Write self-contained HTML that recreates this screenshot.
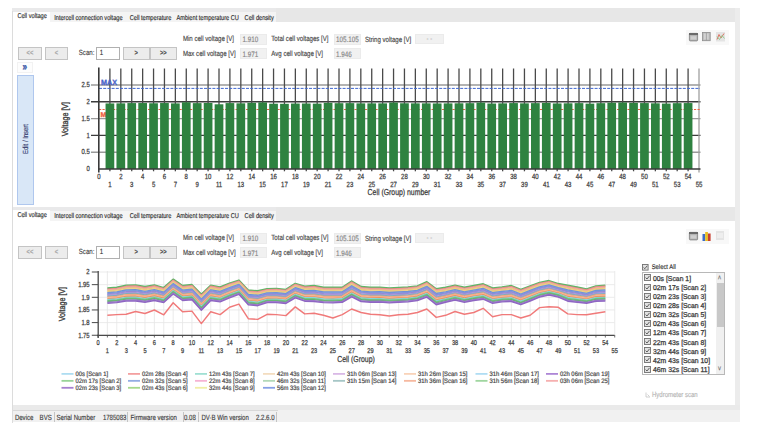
<!DOCTYPE html><html><head><meta charset="utf-8"><style>
html,body{margin:0;padding:0;background:#fff;text-rendering:geometricPrecision;}
body{width:758px;height:431px;position:relative;overflow:hidden;font-family:'Liberation Sans',sans-serif;}
.t{position:absolute;white-space:nowrap;line-height:1;-webkit-text-stroke:0.12px currentColor;transform-origin:0 48%;transform:scaleY(1.25);font-family:'Liberation Sans',sans-serif;}
svg text{stroke-width:0.2px;}
svg text:not(.r){transform-box:fill-box;transform-origin:50% 62%;transform:scaleY(1.25);}
svg text.lg{transform:scaleY(1.08);}
svg{position:absolute;overflow:visible}
#w{position:absolute;left:0;top:0;width:758px;height:431px;}
</style></head><body><div id="w">
<div style="position:absolute;left:12px;top:8px;width:1px;height:415px;background:#dcdcdc;"></div>
<div style="position:absolute;left:735px;top:8px;width:5px;height:402px;background:#ececec;"></div>
<div style="position:absolute;left:12px;top:8px;width:723px;height:13.8px;background:#e7e7e7;"></div>
<div style="position:absolute;left:12px;top:8px;width:263.5px;height:13.8px;background:#f4f4f4;"></div>
<div style="position:absolute;left:12px;top:8px;width:263.5px;height:4.0px;background:#e9e9ea;"></div>
<div style="position:absolute;left:12.4px;top:11.5px;width:37.6px;height:11px;background:#fff;"></div>
<div class="t" style="left:17.4px;top:15.1px;font-size:5.65px;color:#2a2a2a;">Cell voltage</div>
<div class="t" style="left:54.2px;top:16.6px;font-size:5.65px;color:#2a2a2a;">Intercell connection voltage</div>
<div class="t" style="left:129.7px;top:16.6px;font-size:5.65px;color:#2a2a2a;">Cell temperature</div>
<div class="t" style="left:176.5px;top:16.6px;font-size:5.65px;color:#2a2a2a;">Ambient temperature CU</div>
<div class="t" style="left:244.6px;top:16.6px;font-size:5.65px;color:#2a2a2a;">Cell density</div>
<div style="position:absolute;left:12px;top:206.5px;width:723px;height:14.3px;background:#e7e7e7;"></div>
<div style="position:absolute;left:12px;top:206.5px;width:263.5px;height:14.3px;background:#f4f4f4;"></div>
<div style="position:absolute;left:12px;top:206.5px;width:263.5px;height:4.0px;background:#e9e9ea;"></div>
<div style="position:absolute;left:12.4px;top:210.0px;width:37.6px;height:11px;background:#fff;"></div>
<div class="t" style="left:17.4px;top:213.6px;font-size:5.65px;color:#2a2a2a;">Cell voltage</div>
<div class="t" style="left:54.2px;top:215.1px;font-size:5.65px;color:#2a2a2a;">Intercell connection voltage</div>
<div class="t" style="left:129.7px;top:215.1px;font-size:5.65px;color:#2a2a2a;">Cell temperature</div>
<div class="t" style="left:176.5px;top:215.1px;font-size:5.65px;color:#2a2a2a;">Ambient temperature CU</div>
<div class="t" style="left:244.6px;top:215.1px;font-size:5.65px;color:#2a2a2a;">Cell density</div>
<div style="position:absolute;left:12px;top:404.5px;width:728px;height:5.5px;background:#eaeaea;"></div>
<div style="position:absolute;left:12px;top:410px;width:728px;height:12px;background:#f1f1f1;"></div>
<div class="t" style="left:182.9px;top:37.2px;font-size:6.1px;color:#454545;">Min cell voltage [V]</div>
<div class="t" style="left:182.9px;top:51.7px;font-size:6.1px;color:#454545;">Max cell voltage [V]</div>
<div class="t" style="left:271.3px;top:37.2px;font-size:6.1px;color:#454545;">Total cell voltages [V]</div>
<div class="t" style="left:271.3px;top:51.7px;font-size:6.1px;color:#454545;">Avg cell voltage [V]</div>
<div class="t" style="left:364.9px;top:37.6px;font-size:6.1px;color:#454545;">String voltage [V]</div>
<div style="position:absolute;left:240px;top:34px;width:27px;height:10.5px;background:#f1f1f1;border:0.5px solid #ebebeb;box-sizing:border-box;"></div>
<div class="t" style="left:242.4px;top:38.2px;font-size:6.3px;color:#858585;">1.910</div>
<div style="position:absolute;left:240px;top:48.4px;width:27px;height:10.5px;background:#f1f1f1;border:0.5px solid #ebebeb;box-sizing:border-box;"></div>
<div class="t" style="left:242.4px;top:52.6px;font-size:6.3px;color:#858585;">1.971</div>
<div style="position:absolute;left:333.6px;top:34px;width:27px;height:10.5px;background:#f1f1f1;border:0.5px solid #ebebeb;box-sizing:border-box;"></div>
<div class="t" style="left:336.0px;top:38.2px;font-size:6.3px;color:#858585;">105.105</div>
<div style="position:absolute;left:333.6px;top:48.4px;width:27px;height:10.5px;background:#f1f1f1;border:0.5px solid #ebebeb;box-sizing:border-box;"></div>
<div class="t" style="left:336.0px;top:52.6px;font-size:6.3px;color:#858585;">1.946</div>
<div style="position:absolute;left:415px;top:33.5px;width:28.5px;height:10.5px;background:#f1f1f1;border:0.5px solid #ebebeb;box-sizing:border-box;"></div>
<div class="t" style="left:426.5px;top:37.1px;font-size:6px;color:#9a9a9a;">- -</div>
<div style="position:absolute;left:18.2px;top:46.8px;width:23.5px;height:13.2px;background:#ececec;border:1px solid #c4c4c4;box-sizing:border-box;"></div>
<div class="t" style="left:18.2px;top:51.7px;width:23.5px;text-align:center;font-size:5.8px;font-weight:bold;color:#a8a8a8;">&lt;&lt;</div>
<div style="position:absolute;left:44.6px;top:46.8px;width:23.5px;height:13.2px;background:#ececec;border:1px solid #c4c4c4;box-sizing:border-box;"></div>
<div class="t" style="left:44.6px;top:51.7px;width:23.5px;text-align:center;font-size:5.8px;font-weight:bold;color:#a8a8a8;">&lt;</div>
<div style="position:absolute;left:123px;top:46.8px;width:26.6px;height:13.2px;background:#ececec;border:1px solid #c4c4c4;box-sizing:border-box;"></div>
<div class="t" style="left:123px;top:51.7px;width:26.6px;text-align:center;font-size:5.8px;font-weight:bold;color:#4a4a4a;">&gt;</div>
<div style="position:absolute;left:150px;top:46.8px;width:26.6px;height:13.2px;background:#ececec;border:1px solid #c4c4c4;box-sizing:border-box;"></div>
<div class="t" style="left:150px;top:51.7px;width:26.6px;text-align:center;font-size:5.8px;font-weight:bold;color:#4a4a4a;">&gt;&gt;</div>
<div class="t" style="left:78.8px;top:51.4px;font-size:6.1px;color:#454545;">Scan:</div>
<div style="position:absolute;left:95.9px;top:46.6px;width:23.8px;height:13.4px;background:#fff;border:1px solid #b0b0b0;box-sizing:border-box;"></div>
<div class="t" style="left:99.7px;top:51.0px;font-size:6.0px;color:#333;">1</div>
<div class="t" style="left:182.9px;top:236.2px;font-size:6.1px;color:#454545;">Min cell voltage [V]</div>
<div class="t" style="left:182.9px;top:250.7px;font-size:6.1px;color:#454545;">Max cell voltage [V]</div>
<div class="t" style="left:271.3px;top:236.2px;font-size:6.1px;color:#454545;">Total cell voltages [V]</div>
<div class="t" style="left:271.3px;top:250.7px;font-size:6.1px;color:#454545;">Avg cell voltage [V]</div>
<div class="t" style="left:364.9px;top:236.6px;font-size:6.1px;color:#454545;">String voltage [V]</div>
<div style="position:absolute;left:240px;top:233px;width:27px;height:10.5px;background:#f1f1f1;border:0.5px solid #ebebeb;box-sizing:border-box;"></div>
<div class="t" style="left:242.4px;top:237.2px;font-size:6.3px;color:#858585;">1.910</div>
<div style="position:absolute;left:240px;top:247.4px;width:27px;height:10.5px;background:#f1f1f1;border:0.5px solid #ebebeb;box-sizing:border-box;"></div>
<div class="t" style="left:242.4px;top:251.6px;font-size:6.3px;color:#858585;">1.971</div>
<div style="position:absolute;left:333.6px;top:233px;width:27px;height:10.5px;background:#f1f1f1;border:0.5px solid #ebebeb;box-sizing:border-box;"></div>
<div class="t" style="left:336.0px;top:237.2px;font-size:6.3px;color:#858585;">105.105</div>
<div style="position:absolute;left:333.6px;top:247.4px;width:27px;height:10.5px;background:#f1f1f1;border:0.5px solid #ebebeb;box-sizing:border-box;"></div>
<div class="t" style="left:336.0px;top:251.6px;font-size:6.3px;color:#858585;">1.946</div>
<div style="position:absolute;left:415px;top:232.5px;width:28.5px;height:10.5px;background:#f1f1f1;border:0.5px solid #ebebeb;box-sizing:border-box;"></div>
<div class="t" style="left:426.5px;top:236.1px;font-size:6px;color:#9a9a9a;">- -</div>
<div style="position:absolute;left:18.2px;top:245.8px;width:23.5px;height:13.2px;background:#ececec;border:1px solid #c4c4c4;box-sizing:border-box;"></div>
<div class="t" style="left:18.2px;top:250.7px;width:23.5px;text-align:center;font-size:5.8px;font-weight:bold;color:#a8a8a8;">&lt;&lt;</div>
<div style="position:absolute;left:44.6px;top:245.8px;width:23.5px;height:13.2px;background:#ececec;border:1px solid #c4c4c4;box-sizing:border-box;"></div>
<div class="t" style="left:44.6px;top:250.7px;width:23.5px;text-align:center;font-size:5.8px;font-weight:bold;color:#a8a8a8;">&lt;</div>
<div style="position:absolute;left:123px;top:245.8px;width:26.6px;height:13.2px;background:#ececec;border:1px solid #c4c4c4;box-sizing:border-box;"></div>
<div class="t" style="left:123px;top:250.7px;width:26.6px;text-align:center;font-size:5.8px;font-weight:bold;color:#4a4a4a;">&gt;</div>
<div style="position:absolute;left:150px;top:245.8px;width:26.6px;height:13.2px;background:#ececec;border:1px solid #c4c4c4;box-sizing:border-box;"></div>
<div class="t" style="left:150px;top:250.7px;width:26.6px;text-align:center;font-size:5.8px;font-weight:bold;color:#4a4a4a;">&gt;&gt;</div>
<div class="t" style="left:78.8px;top:250.4px;font-size:6.1px;color:#454545;">Scan:</div>
<div style="position:absolute;left:95.9px;top:245.6px;width:23.8px;height:13.4px;background:#fff;border:1px solid #b0b0b0;box-sizing:border-box;"></div>
<div class="t" style="left:99.7px;top:250.0px;font-size:6.0px;color:#333;">1</div>
<div style="position:absolute;left:686px;top:29.5px;width:43px;height:15px;background:#f8f8f8;"></div>
<svg style="left:689px;top:32.6px" width="9" height="8.3"><rect x="0.4" y="0.4" width="8.2" height="7.5" rx="0.8" fill="#b4b4b4" stroke="#7c7c7c" stroke-width="0.8"/><rect x="0" y="0" width="9" height="2" fill="#6a6a6a"/><rect x="1.6" y="3.2" width="5.8" height="3.4" fill="#cfcfcf"/></svg>
<svg style="left:702.3px;top:32.2px" width="8.6" height="9.1"><rect x="0.4" y="0.4" width="7.8" height="8.3" fill="#bdbdbd" stroke="#8e8e8e" stroke-width="0.8"/><rect x="2" y="1.5" width="4.6" height="6" fill="#d2d2d2"/><rect x="3.9" y="0.4" width="0.8" height="8.3" fill="#9a9a9a"/></svg>
<svg style="left:715.6px;top:31.8px" width="9" height="9.5"><rect x="0" y="0" width="9" height="9.5" fill="#e4e4e4"/><polyline points="1,7.5 3,2.5 5,6 8,1.5" fill="none" stroke="#e07060" stroke-width="1"/><polyline points="1,4.5 3.5,7.5 6,3.5 8.5,6.5" fill="none" stroke="#8cc88c" stroke-width="0.9"/></svg>
<div style="position:absolute;left:686px;top:228.5px;width:43px;height:15px;background:#f8f8f8;"></div>
<svg style="left:689px;top:231.6px" width="9" height="8.3"><rect x="0.4" y="0.4" width="8.2" height="7.5" rx="0.8" fill="#b4b4b4" stroke="#7c7c7c" stroke-width="0.8"/><rect x="0" y="0" width="9" height="2" fill="#6a6a6a"/><rect x="1.6" y="3.2" width="5.8" height="3.4" fill="#cfcfcf"/></svg>
<svg style="left:702.3px;top:230.6px" width="9" height="10"><rect x="0.5" y="3" width="2.7" height="7" fill="#3c6cc8"/><rect x="3.2" y="1" width="2.7" height="9" fill="#e8c020"/><rect x="5.9" y="2.5" width="2.7" height="7.5" fill="#c84030"/></svg>
<div style="position:absolute;left:715.6px;top:231.4px;width:8.6px;height:8.4px;background:#e4e4e4;"></div>
<div style="position:absolute;left:717px;top:233px;width:5.8px;height:5px;background:#eeeeee;"></div>
<div style="position:absolute;left:17px;top:62.4px;width:16.2px;height:10.2px;background:#fdfdfd;border:0.5px solid #f2f2f2;box-sizing:border-box;"></div>
<div class="t" style="left:22.6px;top:63.4px;font-size:8.2px;color:#3a58a8;font-weight:bold;-webkit-text-stroke:0.3px #3a58a8;">&#187;</div>
<div style="position:absolute;left:17px;top:74.7px;width:16.8px;height:130px;background:#d9e7f7;border:1px solid #afc7ee;box-sizing:border-box;"></div>
<div class="t" style="left:27.5px;top:139.4px;font-size:5.9px;color:#384070;transform-origin:50% 50%;transform:translate(-50%,-50%) rotate(-90deg) scaleY(1.25);">Edit / Insert</div>
<svg style="left:0;top:0" width="758" height="431" viewBox="0 0 758 431">
<line x1="91" y1="152.20" x2="700.5" y2="152.20" stroke="#9a9a9a" stroke-width="1.4"/>
<line x1="91" y1="135.40" x2="700.5" y2="135.40" stroke="#3c3c3c" stroke-width="1.4"/>
<line x1="91" y1="118.60" x2="700.5" y2="118.60" stroke="#9a9a9a" stroke-width="1.4"/>
<line x1="91" y1="101.80" x2="700.5" y2="101.80" stroke="#3c3c3c" stroke-width="1.4"/>
<line x1="91" y1="85.00" x2="700.5" y2="85.00" stroke="#9a9a9a" stroke-width="1.4"/>
<line x1="109.91" y1="68.5" x2="109.91" y2="171.3" stroke="#4a4a4a" stroke-width="1.3"/>
<line x1="120.82" y1="68.5" x2="120.82" y2="171.3" stroke="#4a4a4a" stroke-width="1.3"/>
<line x1="131.73" y1="68.5" x2="131.73" y2="171.3" stroke="#4a4a4a" stroke-width="1.3"/>
<line x1="142.64" y1="68.5" x2="142.64" y2="171.3" stroke="#4a4a4a" stroke-width="1.3"/>
<line x1="153.55" y1="68.5" x2="153.55" y2="171.3" stroke="#4a4a4a" stroke-width="1.3"/>
<line x1="164.45" y1="68.5" x2="164.45" y2="171.3" stroke="#4a4a4a" stroke-width="1.3"/>
<line x1="175.36" y1="68.5" x2="175.36" y2="171.3" stroke="#4a4a4a" stroke-width="1.3"/>
<line x1="186.27" y1="68.5" x2="186.27" y2="171.3" stroke="#4a4a4a" stroke-width="1.3"/>
<line x1="197.18" y1="68.5" x2="197.18" y2="171.3" stroke="#4a4a4a" stroke-width="1.3"/>
<line x1="208.09" y1="68.5" x2="208.09" y2="171.3" stroke="#4a4a4a" stroke-width="1.3"/>
<line x1="219.00" y1="68.5" x2="219.00" y2="171.3" stroke="#4a4a4a" stroke-width="1.3"/>
<line x1="229.91" y1="68.5" x2="229.91" y2="171.3" stroke="#4a4a4a" stroke-width="1.3"/>
<line x1="240.82" y1="68.5" x2="240.82" y2="171.3" stroke="#4a4a4a" stroke-width="1.3"/>
<line x1="251.73" y1="68.5" x2="251.73" y2="171.3" stroke="#4a4a4a" stroke-width="1.3"/>
<line x1="262.64" y1="68.5" x2="262.64" y2="171.3" stroke="#4a4a4a" stroke-width="1.3"/>
<line x1="273.55" y1="68.5" x2="273.55" y2="171.3" stroke="#4a4a4a" stroke-width="1.3"/>
<line x1="284.45" y1="68.5" x2="284.45" y2="171.3" stroke="#4a4a4a" stroke-width="1.3"/>
<line x1="295.36" y1="68.5" x2="295.36" y2="171.3" stroke="#4a4a4a" stroke-width="1.3"/>
<line x1="306.27" y1="68.5" x2="306.27" y2="171.3" stroke="#4a4a4a" stroke-width="1.3"/>
<line x1="317.18" y1="68.5" x2="317.18" y2="171.3" stroke="#4a4a4a" stroke-width="1.3"/>
<line x1="328.09" y1="68.5" x2="328.09" y2="171.3" stroke="#4a4a4a" stroke-width="1.3"/>
<line x1="339.00" y1="68.5" x2="339.00" y2="171.3" stroke="#4a4a4a" stroke-width="1.3"/>
<line x1="349.91" y1="68.5" x2="349.91" y2="171.3" stroke="#4a4a4a" stroke-width="1.3"/>
<line x1="360.82" y1="68.5" x2="360.82" y2="171.3" stroke="#4a4a4a" stroke-width="1.3"/>
<line x1="371.73" y1="68.5" x2="371.73" y2="171.3" stroke="#4a4a4a" stroke-width="1.3"/>
<line x1="382.64" y1="68.5" x2="382.64" y2="171.3" stroke="#4a4a4a" stroke-width="1.3"/>
<line x1="393.55" y1="68.5" x2="393.55" y2="171.3" stroke="#4a4a4a" stroke-width="1.3"/>
<line x1="404.45" y1="68.5" x2="404.45" y2="171.3" stroke="#4a4a4a" stroke-width="1.3"/>
<line x1="415.36" y1="68.5" x2="415.36" y2="171.3" stroke="#4a4a4a" stroke-width="1.3"/>
<line x1="426.27" y1="68.5" x2="426.27" y2="171.3" stroke="#4a4a4a" stroke-width="1.3"/>
<line x1="437.18" y1="68.5" x2="437.18" y2="171.3" stroke="#4a4a4a" stroke-width="1.3"/>
<line x1="448.09" y1="68.5" x2="448.09" y2="171.3" stroke="#4a4a4a" stroke-width="1.3"/>
<line x1="459.00" y1="68.5" x2="459.00" y2="171.3" stroke="#4a4a4a" stroke-width="1.3"/>
<line x1="469.91" y1="68.5" x2="469.91" y2="171.3" stroke="#4a4a4a" stroke-width="1.3"/>
<line x1="480.82" y1="68.5" x2="480.82" y2="171.3" stroke="#4a4a4a" stroke-width="1.3"/>
<line x1="491.73" y1="68.5" x2="491.73" y2="171.3" stroke="#4a4a4a" stroke-width="1.3"/>
<line x1="502.64" y1="68.5" x2="502.64" y2="171.3" stroke="#4a4a4a" stroke-width="1.3"/>
<line x1="513.55" y1="68.5" x2="513.55" y2="171.3" stroke="#4a4a4a" stroke-width="1.3"/>
<line x1="524.45" y1="68.5" x2="524.45" y2="171.3" stroke="#4a4a4a" stroke-width="1.3"/>
<line x1="535.36" y1="68.5" x2="535.36" y2="171.3" stroke="#4a4a4a" stroke-width="1.3"/>
<line x1="546.27" y1="68.5" x2="546.27" y2="171.3" stroke="#4a4a4a" stroke-width="1.3"/>
<line x1="557.18" y1="68.5" x2="557.18" y2="171.3" stroke="#4a4a4a" stroke-width="1.3"/>
<line x1="568.09" y1="68.5" x2="568.09" y2="171.3" stroke="#4a4a4a" stroke-width="1.3"/>
<line x1="579.00" y1="68.5" x2="579.00" y2="171.3" stroke="#4a4a4a" stroke-width="1.3"/>
<line x1="589.91" y1="68.5" x2="589.91" y2="171.3" stroke="#4a4a4a" stroke-width="1.3"/>
<line x1="600.82" y1="68.5" x2="600.82" y2="171.3" stroke="#4a4a4a" stroke-width="1.3"/>
<line x1="611.73" y1="68.5" x2="611.73" y2="171.3" stroke="#4a4a4a" stroke-width="1.3"/>
<line x1="622.64" y1="68.5" x2="622.64" y2="171.3" stroke="#4a4a4a" stroke-width="1.3"/>
<line x1="633.55" y1="68.5" x2="633.55" y2="171.3" stroke="#4a4a4a" stroke-width="1.3"/>
<line x1="644.45" y1="68.5" x2="644.45" y2="171.3" stroke="#4a4a4a" stroke-width="1.3"/>
<line x1="655.36" y1="68.5" x2="655.36" y2="171.3" stroke="#4a4a4a" stroke-width="1.3"/>
<line x1="666.27" y1="68.5" x2="666.27" y2="171.3" stroke="#4a4a4a" stroke-width="1.3"/>
<line x1="677.18" y1="68.5" x2="677.18" y2="171.3" stroke="#4a4a4a" stroke-width="1.3"/>
<line x1="688.09" y1="68.5" x2="688.09" y2="171.3" stroke="#4a4a4a" stroke-width="1.3"/>
<line x1="699.00" y1="68.5" x2="699.00" y2="172.5" stroke="#a0a0a0" stroke-width="1.3"/>
<line x1="99" y1="88.4" x2="700" y2="88.4" stroke="#3f66d0" stroke-width="1" stroke-dasharray="3,1.2"/>
<line x1="99" y1="109.5" x2="700" y2="109.5" stroke="#f06040" stroke-width="1.1" stroke-dasharray="2.2,1.3"/>
<text class="r" x="101.0" y="84.7" font-family="Liberation Sans" font-weight="bold" font-size="7.5" fill="#4862c8" stroke="#4862c8" style="stroke-width:0.3px" textLength="16.0" lengthAdjust="spacingAndGlyphs">MAX</text>
<text class="r" x="100.6" y="116.9" font-family="Liberation Sans" font-weight="bold" font-size="7.0" fill="#f05a3c" stroke="#f05a3c" style="stroke-width:0.3px">MIN</text>
<rect x="105.56" y="103.45" width="8.7" height="65.55" fill="#2e8240"/>
<rect x="116.47" y="103.36" width="8.7" height="65.64" fill="#2e8240"/>
<rect x="127.38" y="103.08" width="8.7" height="65.92" fill="#2e8240"/>
<rect x="138.29" y="103.04" width="8.7" height="65.96" fill="#2e8240"/>
<rect x="149.20" y="103.27" width="8.7" height="65.73" fill="#2e8240"/>
<rect x="160.10" y="103.04" width="8.7" height="65.96" fill="#2e8240"/>
<rect x="171.01" y="103.40" width="8.7" height="65.60" fill="#2e8240"/>
<rect x="181.92" y="102.28" width="8.7" height="66.72" fill="#2e8240"/>
<rect x="192.83" y="103.13" width="8.7" height="65.87" fill="#2e8240"/>
<rect x="203.74" y="103.00" width="8.7" height="66.00" fill="#2e8240"/>
<rect x="214.65" y="104.29" width="8.7" height="64.71" fill="#2e8240"/>
<rect x="225.56" y="103.08" width="8.7" height="65.92" fill="#2e8240"/>
<rect x="236.47" y="103.32" width="8.7" height="65.68" fill="#2e8240"/>
<rect x="247.38" y="102.80" width="8.7" height="66.20" fill="#2e8240"/>
<rect x="258.29" y="102.40" width="8.7" height="66.60" fill="#2e8240"/>
<rect x="269.20" y="103.73" width="8.7" height="65.27" fill="#2e8240"/>
<rect x="280.10" y="103.82" width="8.7" height="65.18" fill="#2e8240"/>
<rect x="291.01" y="103.54" width="8.7" height="65.46" fill="#2e8240"/>
<rect x="301.92" y="103.50" width="8.7" height="65.50" fill="#2e8240"/>
<rect x="312.83" y="103.64" width="8.7" height="65.36" fill="#2e8240"/>
<rect x="323.74" y="102.84" width="8.7" height="66.16" fill="#2e8240"/>
<rect x="334.65" y="103.21" width="8.7" height="65.79" fill="#2e8240"/>
<rect x="345.56" y="103.13" width="8.7" height="65.87" fill="#2e8240"/>
<rect x="356.47" y="103.36" width="8.7" height="65.64" fill="#2e8240"/>
<rect x="367.38" y="103.36" width="8.7" height="65.64" fill="#2e8240"/>
<rect x="378.29" y="103.36" width="8.7" height="65.64" fill="#2e8240"/>
<rect x="389.20" y="102.52" width="8.7" height="66.48" fill="#2e8240"/>
<rect x="400.10" y="103.27" width="8.7" height="65.73" fill="#2e8240"/>
<rect x="411.01" y="103.36" width="8.7" height="65.64" fill="#2e8240"/>
<rect x="421.92" y="103.36" width="8.7" height="65.64" fill="#2e8240"/>
<rect x="432.83" y="103.45" width="8.7" height="65.55" fill="#2e8240"/>
<rect x="443.74" y="103.40" width="8.7" height="65.60" fill="#2e8240"/>
<rect x="454.65" y="103.32" width="8.7" height="65.68" fill="#2e8240"/>
<rect x="465.56" y="103.17" width="8.7" height="65.83" fill="#2e8240"/>
<rect x="476.47" y="102.61" width="8.7" height="66.39" fill="#2e8240"/>
<rect x="487.38" y="103.54" width="8.7" height="65.46" fill="#2e8240"/>
<rect x="498.29" y="103.36" width="8.7" height="65.64" fill="#2e8240"/>
<rect x="509.20" y="103.08" width="8.7" height="65.92" fill="#2e8240"/>
<rect x="520.10" y="103.36" width="8.7" height="65.64" fill="#2e8240"/>
<rect x="531.01" y="103.13" width="8.7" height="65.87" fill="#2e8240"/>
<rect x="541.92" y="102.89" width="8.7" height="66.11" fill="#2e8240"/>
<rect x="552.83" y="103.45" width="8.7" height="65.55" fill="#2e8240"/>
<rect x="563.74" y="103.32" width="8.7" height="65.68" fill="#2e8240"/>
<rect x="574.65" y="103.13" width="8.7" height="65.87" fill="#2e8240"/>
<rect x="585.56" y="103.64" width="8.7" height="65.36" fill="#2e8240"/>
<rect x="596.47" y="103.17" width="8.7" height="65.83" fill="#2e8240"/>
<rect x="607.38" y="102.71" width="8.7" height="66.29" fill="#2e8240"/>
<rect x="618.29" y="102.47" width="8.7" height="66.53" fill="#2e8240"/>
<rect x="629.20" y="102.87" width="8.7" height="66.13" fill="#2e8240"/>
<rect x="640.10" y="103.08" width="8.7" height="65.92" fill="#2e8240"/>
<rect x="651.01" y="103.32" width="8.7" height="65.68" fill="#2e8240"/>
<rect x="661.92" y="103.58" width="8.7" height="65.42" fill="#2e8240"/>
<rect x="672.83" y="103.17" width="8.7" height="65.83" fill="#2e8240"/>
<rect x="683.74" y="103.08" width="8.7" height="65.92" fill="#2e8240"/>
<line x1="98.8" y1="67.5" x2="98.8" y2="172.5" stroke="#3a3a3a" stroke-width="1.6"/>
<line x1="98" y1="169" x2="700.5" y2="169" stroke="#3a3a3a" stroke-width="1.4"/>
<text x="89.8" y="171.10" text-anchor="end" font-family="Liberation Sans" font-size="5.9" fill="#3c3c3c" stroke="#3c3c3c">0</text>
<text x="89.8" y="154.30" text-anchor="end" font-family="Liberation Sans" font-size="5.9" fill="#3c3c3c" stroke="#3c3c3c">0.5</text>
<text x="89.8" y="137.50" text-anchor="end" font-family="Liberation Sans" font-size="5.9" fill="#3c3c3c" stroke="#3c3c3c">1</text>
<text x="89.8" y="120.70" text-anchor="end" font-family="Liberation Sans" font-size="5.9" fill="#3c3c3c" stroke="#3c3c3c">1.5</text>
<text x="89.8" y="103.90" text-anchor="end" font-family="Liberation Sans" font-size="5.9" fill="#3c3c3c" stroke="#3c3c3c">2</text>
<text x="89.8" y="87.10" text-anchor="end" font-family="Liberation Sans" font-size="5.9" fill="#3c3c3c" stroke="#3c3c3c">2.5</text>
<text x="99.00" y="178.7" text-anchor="middle" font-family="Liberation Sans" font-size="6.0" fill="#3c3c3c" stroke="#3c3c3c">0</text>
<text x="109.91" y="186.4" text-anchor="middle" font-family="Liberation Sans" font-size="6.0" fill="#3c3c3c" stroke="#3c3c3c">1</text>
<text x="120.82" y="178.7" text-anchor="middle" font-family="Liberation Sans" font-size="6.0" fill="#3c3c3c" stroke="#3c3c3c">2</text>
<text x="131.73" y="186.4" text-anchor="middle" font-family="Liberation Sans" font-size="6.0" fill="#3c3c3c" stroke="#3c3c3c">3</text>
<text x="142.64" y="178.7" text-anchor="middle" font-family="Liberation Sans" font-size="6.0" fill="#3c3c3c" stroke="#3c3c3c">4</text>
<text x="153.55" y="186.4" text-anchor="middle" font-family="Liberation Sans" font-size="6.0" fill="#3c3c3c" stroke="#3c3c3c">5</text>
<text x="164.45" y="178.7" text-anchor="middle" font-family="Liberation Sans" font-size="6.0" fill="#3c3c3c" stroke="#3c3c3c">6</text>
<text x="175.36" y="186.4" text-anchor="middle" font-family="Liberation Sans" font-size="6.0" fill="#3c3c3c" stroke="#3c3c3c">7</text>
<text x="186.27" y="178.7" text-anchor="middle" font-family="Liberation Sans" font-size="6.0" fill="#3c3c3c" stroke="#3c3c3c">8</text>
<text x="197.18" y="186.4" text-anchor="middle" font-family="Liberation Sans" font-size="6.0" fill="#3c3c3c" stroke="#3c3c3c">9</text>
<text x="208.09" y="178.7" text-anchor="middle" font-family="Liberation Sans" font-size="6.0" fill="#3c3c3c" stroke="#3c3c3c">10</text>
<text x="219.00" y="186.4" text-anchor="middle" font-family="Liberation Sans" font-size="6.0" fill="#3c3c3c" stroke="#3c3c3c">11</text>
<text x="229.91" y="178.7" text-anchor="middle" font-family="Liberation Sans" font-size="6.0" fill="#3c3c3c" stroke="#3c3c3c">12</text>
<text x="240.82" y="186.4" text-anchor="middle" font-family="Liberation Sans" font-size="6.0" fill="#3c3c3c" stroke="#3c3c3c">13</text>
<text x="251.73" y="178.7" text-anchor="middle" font-family="Liberation Sans" font-size="6.0" fill="#3c3c3c" stroke="#3c3c3c">14</text>
<text x="262.64" y="186.4" text-anchor="middle" font-family="Liberation Sans" font-size="6.0" fill="#3c3c3c" stroke="#3c3c3c">15</text>
<text x="273.55" y="178.7" text-anchor="middle" font-family="Liberation Sans" font-size="6.0" fill="#3c3c3c" stroke="#3c3c3c">16</text>
<text x="284.45" y="186.4" text-anchor="middle" font-family="Liberation Sans" font-size="6.0" fill="#3c3c3c" stroke="#3c3c3c">17</text>
<text x="295.36" y="178.7" text-anchor="middle" font-family="Liberation Sans" font-size="6.0" fill="#3c3c3c" stroke="#3c3c3c">18</text>
<text x="306.27" y="186.4" text-anchor="middle" font-family="Liberation Sans" font-size="6.0" fill="#3c3c3c" stroke="#3c3c3c">19</text>
<text x="317.18" y="178.7" text-anchor="middle" font-family="Liberation Sans" font-size="6.0" fill="#3c3c3c" stroke="#3c3c3c">20</text>
<text x="328.09" y="186.4" text-anchor="middle" font-family="Liberation Sans" font-size="6.0" fill="#3c3c3c" stroke="#3c3c3c">21</text>
<text x="339.00" y="178.7" text-anchor="middle" font-family="Liberation Sans" font-size="6.0" fill="#3c3c3c" stroke="#3c3c3c">22</text>
<text x="349.91" y="186.4" text-anchor="middle" font-family="Liberation Sans" font-size="6.0" fill="#3c3c3c" stroke="#3c3c3c">23</text>
<text x="360.82" y="178.7" text-anchor="middle" font-family="Liberation Sans" font-size="6.0" fill="#3c3c3c" stroke="#3c3c3c">24</text>
<text x="371.73" y="186.4" text-anchor="middle" font-family="Liberation Sans" font-size="6.0" fill="#3c3c3c" stroke="#3c3c3c">25</text>
<text x="382.64" y="178.7" text-anchor="middle" font-family="Liberation Sans" font-size="6.0" fill="#3c3c3c" stroke="#3c3c3c">26</text>
<text x="393.55" y="186.4" text-anchor="middle" font-family="Liberation Sans" font-size="6.0" fill="#3c3c3c" stroke="#3c3c3c">27</text>
<text x="404.45" y="178.7" text-anchor="middle" font-family="Liberation Sans" font-size="6.0" fill="#3c3c3c" stroke="#3c3c3c">28</text>
<text x="415.36" y="186.4" text-anchor="middle" font-family="Liberation Sans" font-size="6.0" fill="#3c3c3c" stroke="#3c3c3c">29</text>
<text x="426.27" y="178.7" text-anchor="middle" font-family="Liberation Sans" font-size="6.0" fill="#3c3c3c" stroke="#3c3c3c">30</text>
<text x="437.18" y="186.4" text-anchor="middle" font-family="Liberation Sans" font-size="6.0" fill="#3c3c3c" stroke="#3c3c3c">31</text>
<text x="448.09" y="178.7" text-anchor="middle" font-family="Liberation Sans" font-size="6.0" fill="#3c3c3c" stroke="#3c3c3c">32</text>
<text x="459.00" y="186.4" text-anchor="middle" font-family="Liberation Sans" font-size="6.0" fill="#3c3c3c" stroke="#3c3c3c">33</text>
<text x="469.91" y="178.7" text-anchor="middle" font-family="Liberation Sans" font-size="6.0" fill="#3c3c3c" stroke="#3c3c3c">34</text>
<text x="480.82" y="186.4" text-anchor="middle" font-family="Liberation Sans" font-size="6.0" fill="#3c3c3c" stroke="#3c3c3c">35</text>
<text x="491.73" y="178.7" text-anchor="middle" font-family="Liberation Sans" font-size="6.0" fill="#3c3c3c" stroke="#3c3c3c">36</text>
<text x="502.64" y="186.4" text-anchor="middle" font-family="Liberation Sans" font-size="6.0" fill="#3c3c3c" stroke="#3c3c3c">37</text>
<text x="513.55" y="178.7" text-anchor="middle" font-family="Liberation Sans" font-size="6.0" fill="#3c3c3c" stroke="#3c3c3c">38</text>
<text x="524.45" y="186.4" text-anchor="middle" font-family="Liberation Sans" font-size="6.0" fill="#3c3c3c" stroke="#3c3c3c">39</text>
<text x="535.36" y="178.7" text-anchor="middle" font-family="Liberation Sans" font-size="6.0" fill="#3c3c3c" stroke="#3c3c3c">40</text>
<text x="546.27" y="186.4" text-anchor="middle" font-family="Liberation Sans" font-size="6.0" fill="#3c3c3c" stroke="#3c3c3c">41</text>
<text x="557.18" y="178.7" text-anchor="middle" font-family="Liberation Sans" font-size="6.0" fill="#3c3c3c" stroke="#3c3c3c">42</text>
<text x="568.09" y="186.4" text-anchor="middle" font-family="Liberation Sans" font-size="6.0" fill="#3c3c3c" stroke="#3c3c3c">43</text>
<text x="579.00" y="178.7" text-anchor="middle" font-family="Liberation Sans" font-size="6.0" fill="#3c3c3c" stroke="#3c3c3c">44</text>
<text x="589.91" y="186.4" text-anchor="middle" font-family="Liberation Sans" font-size="6.0" fill="#3c3c3c" stroke="#3c3c3c">45</text>
<text x="600.82" y="178.7" text-anchor="middle" font-family="Liberation Sans" font-size="6.0" fill="#3c3c3c" stroke="#3c3c3c">46</text>
<text x="611.73" y="186.4" text-anchor="middle" font-family="Liberation Sans" font-size="6.0" fill="#3c3c3c" stroke="#3c3c3c">47</text>
<text x="622.64" y="178.7" text-anchor="middle" font-family="Liberation Sans" font-size="6.0" fill="#3c3c3c" stroke="#3c3c3c">48</text>
<text x="633.55" y="186.4" text-anchor="middle" font-family="Liberation Sans" font-size="6.0" fill="#3c3c3c" stroke="#3c3c3c">49</text>
<text x="644.45" y="178.7" text-anchor="middle" font-family="Liberation Sans" font-size="6.0" fill="#3c3c3c" stroke="#3c3c3c">50</text>
<text x="655.36" y="186.4" text-anchor="middle" font-family="Liberation Sans" font-size="6.0" fill="#3c3c3c" stroke="#3c3c3c">51</text>
<text x="666.27" y="178.7" text-anchor="middle" font-family="Liberation Sans" font-size="6.0" fill="#3c3c3c" stroke="#3c3c3c">52</text>
<text x="677.18" y="186.4" text-anchor="middle" font-family="Liberation Sans" font-size="6.0" fill="#3c3c3c" stroke="#3c3c3c">53</text>
<text x="688.09" y="178.7" text-anchor="middle" font-family="Liberation Sans" font-size="6.0" fill="#3c3c3c" stroke="#3c3c3c">54</text>
<text x="699.00" y="186.4" text-anchor="middle" font-family="Liberation Sans" font-size="6.0" fill="#3c3c3c" stroke="#3c3c3c">55</text>
<text x="399" y="195.3" text-anchor="middle" font-family="Liberation Sans" font-size="6.9" fill="#3c3c3c" stroke="#3c3c3c">Cell (Group) number</text>
<text class="r" transform="translate(68.2,119.1) rotate(-90) scale(1,1.25)" text-anchor="middle" font-family="Liberation Sans" font-size="7.1" fill="#444" stroke="#444" style="stroke-width:0.3px">Voltage [V]</text>
<line x1="107.39" y1="271" x2="107.39" y2="335" stroke="#e6e6e6" stroke-width="0.8"/>
<line x1="116.79" y1="271" x2="116.79" y2="335" stroke="#e6e6e6" stroke-width="0.8"/>
<line x1="126.19" y1="271" x2="126.19" y2="335" stroke="#e6e6e6" stroke-width="0.8"/>
<line x1="135.58" y1="271" x2="135.58" y2="335" stroke="#e6e6e6" stroke-width="0.8"/>
<line x1="144.97" y1="271" x2="144.97" y2="335" stroke="#e6e6e6" stroke-width="0.8"/>
<line x1="154.37" y1="271" x2="154.37" y2="335" stroke="#e6e6e6" stroke-width="0.8"/>
<line x1="163.76" y1="271" x2="163.76" y2="335" stroke="#e6e6e6" stroke-width="0.8"/>
<line x1="173.16" y1="271" x2="173.16" y2="335" stroke="#e6e6e6" stroke-width="0.8"/>
<line x1="182.56" y1="271" x2="182.56" y2="335" stroke="#e6e6e6" stroke-width="0.8"/>
<line x1="191.95" y1="271" x2="191.95" y2="335" stroke="#e6e6e6" stroke-width="0.8"/>
<line x1="201.34" y1="271" x2="201.34" y2="335" stroke="#e6e6e6" stroke-width="0.8"/>
<line x1="210.74" y1="271" x2="210.74" y2="335" stroke="#e6e6e6" stroke-width="0.8"/>
<line x1="220.13" y1="271" x2="220.13" y2="335" stroke="#e6e6e6" stroke-width="0.8"/>
<line x1="229.53" y1="271" x2="229.53" y2="335" stroke="#e6e6e6" stroke-width="0.8"/>
<line x1="238.92" y1="271" x2="238.92" y2="335" stroke="#e6e6e6" stroke-width="0.8"/>
<line x1="248.32" y1="271" x2="248.32" y2="335" stroke="#e6e6e6" stroke-width="0.8"/>
<line x1="257.72" y1="271" x2="257.72" y2="335" stroke="#e6e6e6" stroke-width="0.8"/>
<line x1="267.11" y1="271" x2="267.11" y2="335" stroke="#e6e6e6" stroke-width="0.8"/>
<line x1="276.50" y1="271" x2="276.50" y2="335" stroke="#e6e6e6" stroke-width="0.8"/>
<line x1="285.90" y1="271" x2="285.90" y2="335" stroke="#e6e6e6" stroke-width="0.8"/>
<line x1="295.29" y1="271" x2="295.29" y2="335" stroke="#e6e6e6" stroke-width="0.8"/>
<line x1="304.69" y1="271" x2="304.69" y2="335" stroke="#e6e6e6" stroke-width="0.8"/>
<line x1="314.08" y1="271" x2="314.08" y2="335" stroke="#e6e6e6" stroke-width="0.8"/>
<line x1="323.48" y1="271" x2="323.48" y2="335" stroke="#e6e6e6" stroke-width="0.8"/>
<line x1="332.88" y1="271" x2="332.88" y2="335" stroke="#e6e6e6" stroke-width="0.8"/>
<line x1="342.27" y1="271" x2="342.27" y2="335" stroke="#e6e6e6" stroke-width="0.8"/>
<line x1="351.66" y1="271" x2="351.66" y2="335" stroke="#e6e6e6" stroke-width="0.8"/>
<line x1="361.06" y1="271" x2="361.06" y2="335" stroke="#e6e6e6" stroke-width="0.8"/>
<line x1="370.45" y1="271" x2="370.45" y2="335" stroke="#e6e6e6" stroke-width="0.8"/>
<line x1="379.85" y1="271" x2="379.85" y2="335" stroke="#e6e6e6" stroke-width="0.8"/>
<line x1="389.25" y1="271" x2="389.25" y2="335" stroke="#e6e6e6" stroke-width="0.8"/>
<line x1="398.64" y1="271" x2="398.64" y2="335" stroke="#e6e6e6" stroke-width="0.8"/>
<line x1="408.03" y1="271" x2="408.03" y2="335" stroke="#e6e6e6" stroke-width="0.8"/>
<line x1="417.43" y1="271" x2="417.43" y2="335" stroke="#e6e6e6" stroke-width="0.8"/>
<line x1="426.82" y1="271" x2="426.82" y2="335" stroke="#e6e6e6" stroke-width="0.8"/>
<line x1="436.22" y1="271" x2="436.22" y2="335" stroke="#e6e6e6" stroke-width="0.8"/>
<line x1="445.62" y1="271" x2="445.62" y2="335" stroke="#e6e6e6" stroke-width="0.8"/>
<line x1="455.01" y1="271" x2="455.01" y2="335" stroke="#e6e6e6" stroke-width="0.8"/>
<line x1="464.40" y1="271" x2="464.40" y2="335" stroke="#e6e6e6" stroke-width="0.8"/>
<line x1="473.80" y1="271" x2="473.80" y2="335" stroke="#e6e6e6" stroke-width="0.8"/>
<line x1="483.19" y1="271" x2="483.19" y2="335" stroke="#e6e6e6" stroke-width="0.8"/>
<line x1="492.59" y1="271" x2="492.59" y2="335" stroke="#e6e6e6" stroke-width="0.8"/>
<line x1="501.98" y1="271" x2="501.98" y2="335" stroke="#e6e6e6" stroke-width="0.8"/>
<line x1="511.38" y1="271" x2="511.38" y2="335" stroke="#e6e6e6" stroke-width="0.8"/>
<line x1="520.77" y1="271" x2="520.77" y2="335" stroke="#e6e6e6" stroke-width="0.8"/>
<line x1="530.17" y1="271" x2="530.17" y2="335" stroke="#e6e6e6" stroke-width="0.8"/>
<line x1="539.57" y1="271" x2="539.57" y2="335" stroke="#e6e6e6" stroke-width="0.8"/>
<line x1="548.96" y1="271" x2="548.96" y2="335" stroke="#e6e6e6" stroke-width="0.8"/>
<line x1="558.36" y1="271" x2="558.36" y2="335" stroke="#e6e6e6" stroke-width="0.8"/>
<line x1="567.75" y1="271" x2="567.75" y2="335" stroke="#e6e6e6" stroke-width="0.8"/>
<line x1="577.14" y1="271" x2="577.14" y2="335" stroke="#e6e6e6" stroke-width="0.8"/>
<line x1="586.54" y1="271" x2="586.54" y2="335" stroke="#e6e6e6" stroke-width="0.8"/>
<line x1="595.93" y1="271" x2="595.93" y2="335" stroke="#e6e6e6" stroke-width="0.8"/>
<line x1="605.33" y1="271" x2="605.33" y2="335" stroke="#e6e6e6" stroke-width="0.8"/>
<line x1="614.73" y1="271" x2="614.73" y2="335" stroke="#e6e6e6" stroke-width="0.8"/>
<line x1="98" y1="272.00" x2="614.5" y2="272.00" stroke="#e6e6e6" stroke-width="0.8"/>
<line x1="98" y1="284.65" x2="614.5" y2="284.65" stroke="#e6e6e6" stroke-width="0.8"/>
<line x1="98" y1="297.30" x2="614.5" y2="297.30" stroke="#e6e6e6" stroke-width="0.8"/>
<line x1="98" y1="309.95" x2="614.5" y2="309.95" stroke="#e6e6e6" stroke-width="0.8"/>
<line x1="98" y1="322.60" x2="614.5" y2="322.60" stroke="#e6e6e6" stroke-width="0.8"/>
<line x1="98" y1="335.25" x2="614.5" y2="335.25" stroke="#e6e6e6" stroke-width="0.8"/>
<polyline points="107.39,288.20 116.79,287.50 126.19,285.40 135.58,285.10 144.97,286.80 154.37,285.10 163.76,287.80 173.16,279.40 182.56,285.80 191.95,284.80 201.34,294.50 210.74,285.40 220.13,287.20 229.53,283.30 238.92,280.30 248.32,290.30 257.72,291.00 267.11,288.90 276.50,288.60 285.90,289.60 295.29,283.60 304.69,286.40 314.08,285.80 323.48,287.50 332.88,287.50 342.27,287.50 351.66,281.20 361.06,286.80 370.45,287.50 379.85,287.50 389.25,288.20 398.64,287.80 408.03,287.20 417.43,286.10 426.82,281.90 436.22,288.90 445.62,287.50 455.01,285.40 464.40,287.50 473.80,285.80 483.19,284.00 492.59,288.20 501.98,287.20 511.38,285.80 520.77,289.60 530.17,286.10 539.57,282.60 548.96,280.80 558.36,283.80 567.75,285.40 577.14,287.20 586.54,289.20 595.93,286.10 605.33,285.40" fill="none" stroke="#5fb566" stroke-width="1.9" stroke-linejoin="round"/>
<polyline points="107.39,289.09 116.79,288.39 126.19,286.32 135.58,286.04 144.97,287.71 154.37,286.01 163.76,288.67 173.16,280.26 182.56,286.66 191.95,285.68 201.34,295.43 210.74,286.29 220.13,288.06 229.53,284.15 238.92,281.12 248.32,291.15 257.72,291.86 267.11,289.71 276.50,289.42 285.90,290.42 295.29,284.44 304.69,287.27 314.08,286.72 323.48,288.39 332.88,288.41 342.27,288.37 351.66,282.12 361.06,287.66 370.45,288.37 379.85,288.36 389.25,289.06 398.64,288.65 408.03,288.06 417.43,286.95 426.82,282.79 436.22,289.83 445.62,288.37 455.01,286.26 464.40,288.37 473.80,286.66 483.19,284.89 492.59,289.09 501.98,288.06 511.38,286.72 520.77,290.49 530.17,286.98 539.57,283.45 548.96,281.64 558.36,284.58 567.75,286.33 577.14,288.09 586.54,290.03 595.93,286.99 605.33,286.32" fill="none" stroke="#ec8a8a" stroke-width="1.4" stroke-linejoin="round"/>
<polyline points="107.39,289.98 116.79,289.28 126.19,287.24 135.58,286.97 144.97,288.61 154.37,286.91 163.76,289.54 173.16,281.12 182.56,287.53 191.95,286.55 201.34,296.36 210.74,287.18 220.13,288.93 229.53,285.01 238.92,281.95 248.32,291.99 257.72,292.73 267.11,290.51 276.50,290.25 285.90,291.24 295.29,285.27 304.69,288.14 314.08,287.65 323.48,289.28 332.88,289.31 342.27,289.24 351.66,283.04 361.06,288.53 370.45,289.24 379.85,289.22 389.25,289.93 398.64,289.51 408.03,288.93 417.43,287.79 426.82,283.69 436.22,290.76 445.62,289.24 455.01,287.13 464.40,289.24 473.80,287.53 483.19,285.79 492.59,289.98 501.98,288.93 511.38,287.65 520.77,291.38 530.17,287.85 539.57,284.31 548.96,282.47 558.36,285.36 567.75,287.26 577.14,288.98 586.54,290.86 595.93,287.88 605.33,287.24" fill="none" stroke="#f2a9a0" stroke-width="1.4" stroke-linejoin="round"/>
<polyline points="107.39,290.86 116.79,290.16 126.19,288.15 135.58,287.91 144.97,289.52 154.37,287.82 163.76,290.41 173.16,281.98 182.56,288.39 191.95,287.43 201.34,297.29 210.74,288.06 220.13,289.79 229.53,285.86 238.92,282.77 248.32,292.84 257.72,293.59 267.11,291.32 276.50,291.07 285.90,292.05 295.29,286.11 304.69,289.01 314.08,288.57 323.48,290.16 332.88,290.22 342.27,290.11 351.66,283.95 361.06,289.39 370.45,290.11 379.85,290.08 389.25,290.79 398.64,290.36 408.03,289.79 417.43,288.64 426.82,284.58 436.22,291.69 445.62,290.11 455.01,287.99 464.40,290.11 473.80,288.39 483.19,286.68 492.59,290.86 501.98,289.79 511.38,288.57 520.77,292.26 530.17,288.73 539.57,285.16 548.96,283.31 558.36,286.15 567.75,288.19 577.14,289.86 586.54,291.69 595.93,288.76 605.33,288.15" fill="none" stroke="#e8c67c" stroke-width="1.4" stroke-linejoin="round"/>
<polyline points="107.39,291.75 116.79,291.05 126.19,289.07 135.58,288.84 144.97,290.42 154.37,288.72 163.76,291.28 173.16,282.84 182.56,289.26 191.95,288.31 201.34,298.22 210.74,288.95 220.13,290.66 229.53,286.71 238.92,283.59 248.32,293.69 257.72,294.46 267.11,292.12 276.50,291.89 285.90,292.87 295.29,286.94 304.69,289.88 314.08,289.49 323.48,291.05 332.88,291.12 342.27,290.98 351.66,284.87 361.06,290.26 370.45,290.98 379.85,290.94 389.25,291.66 398.64,291.21 408.03,290.66 417.43,289.49 426.82,285.48 436.22,292.62 445.62,290.98 455.01,288.86 464.40,290.98 473.80,289.26 483.19,287.58 492.59,291.75 501.98,290.66 511.38,289.49 520.77,293.15 530.17,289.61 539.57,286.01 548.96,284.14 558.36,286.93 567.75,289.12 577.14,290.75 586.54,292.52 595.93,289.65 605.33,289.07" fill="none" stroke="#eccf84" stroke-width="1.4" stroke-linejoin="round"/>
<polyline points="107.39,292.64 116.79,291.94 126.19,289.99 135.58,289.78 144.97,291.33 154.37,289.63 163.76,292.15 173.16,283.69 182.56,290.12 191.95,289.18 201.34,299.15 210.74,289.84 220.13,291.52 229.53,287.56 238.92,284.42 248.32,294.54 257.72,295.32 267.11,292.93 276.50,292.72 285.90,293.69 295.29,287.78 304.69,290.75 314.08,290.42 323.48,291.94 332.88,292.03 342.27,291.85 351.66,285.79 361.06,291.12 370.45,291.85 379.85,291.79 389.25,292.52 398.64,292.06 408.03,291.52 417.43,290.34 426.82,286.37 436.22,293.55 445.62,291.85 455.01,289.72 464.40,291.85 473.80,290.12 483.19,288.47 492.59,292.64 501.98,291.52 511.38,290.42 520.77,294.04 530.17,290.48 539.57,286.86 548.96,284.98 558.36,287.71 567.75,290.05 577.14,291.64 586.54,293.35 595.93,290.54 605.33,289.99" fill="none" stroke="#6f90d8" stroke-width="1.4" stroke-linejoin="round"/>
<polyline points="107.39,293.53 116.79,292.83 126.19,290.91 135.58,290.71 144.97,292.24 154.37,290.54 163.76,293.02 173.16,284.55 182.56,290.99 191.95,290.06 201.34,300.08 210.74,290.73 220.13,292.39 229.53,288.42 238.92,285.24 248.32,295.38 257.72,296.19 267.11,293.74 276.50,293.54 285.90,294.51 295.29,288.61 304.69,291.62 314.08,291.34 323.48,292.83 332.88,292.94 342.27,292.72 351.66,286.71 361.06,291.99 370.45,292.72 379.85,292.65 389.25,293.39 398.64,292.92 408.03,292.39 417.43,291.18 426.82,287.26 436.22,294.48 445.62,292.72 455.01,290.59 464.40,292.72 473.80,290.99 483.19,289.36 492.59,293.53 501.98,292.39 511.38,291.34 520.77,294.93 530.17,291.36 539.57,287.72 548.96,285.81 558.36,288.49 567.75,290.98 577.14,292.53 586.54,294.18 595.93,291.43 605.33,290.91" fill="none" stroke="#7a98de" stroke-width="1.4" stroke-linejoin="round"/>
<polyline points="107.39,294.42 116.79,293.72 126.19,291.82 135.58,291.65 144.97,293.14 154.37,291.44 163.76,293.89 173.16,285.41 182.56,291.85 191.95,290.94 201.34,301.01 210.74,291.62 220.13,293.25 229.53,289.27 238.92,286.06 248.32,296.23 257.72,297.05 267.11,294.54 276.50,294.36 285.90,295.32 295.29,289.45 304.69,292.49 314.08,292.26 323.48,293.72 332.88,293.84 342.27,293.59 351.66,287.62 361.06,292.85 370.45,293.59 379.85,293.51 389.25,294.25 398.64,293.77 408.03,293.25 417.43,292.03 426.82,288.16 436.22,295.41 445.62,293.59 455.01,291.45 464.40,293.59 473.80,291.85 483.19,290.26 492.59,294.42 501.98,293.25 511.38,292.26 520.77,295.82 530.17,292.24 539.57,288.57 548.96,286.65 558.36,289.28 567.75,291.91 577.14,293.42 586.54,295.01 595.93,292.32 605.33,291.82" fill="none" stroke="#9688d4" stroke-width="1.4" stroke-linejoin="round"/>
<polyline points="107.39,295.31 116.79,294.61 126.19,292.74 135.58,292.58 144.97,294.05 154.37,292.35 163.76,294.76 173.16,286.27 182.56,292.72 191.95,291.81 201.34,301.94 210.74,292.51 220.13,294.12 229.53,290.12 238.92,286.89 248.32,297.08 257.72,297.92 267.11,295.35 276.50,295.19 285.90,296.14 295.29,290.28 304.69,293.36 314.08,293.19 323.48,294.61 332.88,294.75 342.27,294.46 351.66,288.54 361.06,293.72 370.45,294.46 379.85,294.37 389.25,295.12 398.64,294.62 408.03,294.12 417.43,292.88 426.82,289.05 436.22,296.34 445.62,294.46 455.01,292.32 464.40,294.46 473.80,292.72 483.19,291.15 492.59,295.31 501.98,294.12 511.38,293.19 520.77,296.71 530.17,293.11 539.57,289.42 548.96,287.48 558.36,290.06 567.75,292.84 577.14,294.31 586.54,295.84 595.93,293.21 605.33,292.74" fill="none" stroke="#a896dc" stroke-width="1.4" stroke-linejoin="round"/>
<polyline points="107.39,296.19 116.79,295.49 126.19,293.66 135.58,293.52 144.97,294.95 154.37,293.25 163.76,295.64 173.16,287.13 182.56,293.58 191.95,292.69 201.34,302.86 210.74,293.39 220.13,294.98 229.53,290.98 238.92,287.71 248.32,297.92 257.72,298.78 267.11,296.15 276.50,296.01 285.90,296.96 295.29,291.12 304.69,294.24 314.08,294.11 323.48,295.49 332.88,295.65 342.27,295.34 351.66,289.46 361.06,294.58 370.45,295.34 379.85,295.23 389.25,295.98 398.64,295.48 408.03,294.98 417.43,293.72 426.82,289.95 436.22,297.26 445.62,295.34 455.01,293.18 464.40,295.34 473.80,293.58 483.19,292.05 492.59,296.19 501.98,294.98 511.38,294.11 520.77,297.59 530.17,293.99 539.57,290.28 548.96,288.32 558.36,290.84 567.75,293.76 577.14,295.19 586.54,296.66 595.93,294.09 605.33,293.66" fill="none" stroke="#82acbc" stroke-width="1.4" stroke-linejoin="round"/>
<polyline points="107.39,297.08 116.79,296.38 126.19,294.58 135.58,294.45 144.97,295.86 154.37,294.16 163.76,296.51 173.16,287.99 182.56,294.45 191.95,293.56 201.34,303.79 210.74,294.28 220.13,295.85 229.53,291.83 238.92,288.54 248.32,298.77 257.72,299.65 267.11,296.96 276.50,296.84 285.90,297.78 295.29,291.95 304.69,295.11 314.08,295.04 323.48,296.38 332.88,296.56 342.27,296.21 351.66,290.38 361.06,295.45 370.45,296.21 379.85,296.09 389.25,296.85 398.64,296.33 408.03,295.85 417.43,294.57 426.82,290.84 436.22,298.19 445.62,296.21 455.01,294.05 464.40,296.21 473.80,294.45 483.19,292.94 492.59,297.08 501.98,295.85 511.38,295.04 520.77,298.48 530.17,294.86 539.57,291.13 548.96,289.15 558.36,291.62 567.75,294.69 577.14,296.08 586.54,297.49 595.93,294.98 605.33,294.58" fill="none" stroke="#f2a47e" stroke-width="1.4" stroke-linejoin="round"/>
<polyline points="107.39,297.97 116.79,297.27 126.19,295.49 135.58,295.39 144.97,296.76 154.37,295.06 163.76,297.38 173.16,288.85 182.56,295.31 191.95,294.44 201.34,304.72 210.74,295.17 220.13,296.71 229.53,292.68 238.92,289.36 248.32,299.62 257.72,300.51 267.11,297.76 276.50,297.66 285.90,298.59 295.29,292.79 304.69,295.98 314.08,295.96 323.48,297.27 332.88,297.46 342.27,297.08 351.66,291.29 361.06,296.31 370.45,297.08 379.85,296.95 389.25,297.71 398.64,297.18 408.03,296.71 417.43,295.42 426.82,291.74 436.22,299.12 445.62,297.08 455.01,294.91 464.40,297.08 473.80,295.31 483.19,293.84 492.59,297.97 501.98,296.71 511.38,295.96 520.77,299.37 530.17,295.74 539.57,291.98 548.96,289.99 558.36,292.41 567.75,295.62 577.14,296.97 586.54,298.32 595.93,295.87 605.33,295.49" fill="none" stroke="#f6b796" stroke-width="1.4" stroke-linejoin="round"/>
<polyline points="107.39,298.86 116.79,298.16 126.19,296.41 135.58,296.32 144.97,297.67 154.37,295.97 163.76,298.25 173.16,289.71 182.56,296.18 191.95,295.32 201.34,305.65 210.74,296.06 220.13,297.58 229.53,293.54 238.92,290.18 248.32,300.46 257.72,301.38 267.11,298.57 276.50,298.48 285.90,299.41 295.29,293.62 304.69,296.85 314.08,296.88 323.48,298.16 332.88,298.37 342.27,297.95 351.66,292.21 361.06,297.18 370.45,297.95 379.85,297.81 389.25,298.58 398.64,298.04 408.03,297.58 417.43,296.26 426.82,292.63 436.22,300.05 445.62,297.95 455.01,295.78 464.40,297.95 473.80,296.18 483.19,294.73 492.59,298.86 501.98,297.58 511.38,296.88 520.77,300.26 530.17,296.62 539.57,292.84 548.96,290.82 558.36,293.19 567.75,296.55 577.14,297.86 586.54,299.15 595.93,296.76 605.33,296.41" fill="none" stroke="#ef925e" stroke-width="1.4" stroke-linejoin="round"/>
<polyline points="107.39,299.75 116.79,299.05 126.19,297.33 135.58,297.26 144.97,298.58 154.37,296.88 163.76,299.12 173.16,290.56 182.56,297.04 191.95,296.19 201.34,306.58 210.74,296.95 220.13,298.44 229.53,294.39 238.92,291.01 248.32,301.31 257.72,302.24 267.11,299.38 276.50,299.31 285.90,300.23 295.29,294.46 304.69,297.72 314.08,297.81 323.48,299.05 332.88,299.28 342.27,298.82 351.66,293.13 361.06,298.04 370.45,298.82 379.85,298.66 389.25,299.44 398.64,298.89 408.03,298.44 417.43,297.11 426.82,293.52 436.22,300.98 445.62,298.82 455.01,296.64 464.40,298.82 473.80,297.04 483.19,295.62 492.59,299.75 501.98,298.44 511.38,297.81 520.77,301.15 530.17,297.49 539.57,293.69 548.96,291.66 558.36,293.97 567.75,297.48 577.14,298.75 586.54,299.98 595.93,297.65 605.33,297.33" fill="none" stroke="#8ad4e0" stroke-width="1.4" stroke-linejoin="round"/>
<polyline points="107.39,300.64 116.79,299.94 126.19,298.25 135.58,298.19 144.97,299.48 154.37,297.78 163.76,299.99 173.16,291.42 182.56,297.91 191.95,297.07 201.34,307.51 210.74,297.84 220.13,299.31 229.53,295.24 238.92,291.83 248.32,302.16 257.72,303.11 267.11,300.18 276.50,300.13 285.90,301.05 295.29,295.29 304.69,298.59 314.08,298.73 323.48,299.94 332.88,300.18 342.27,299.69 351.66,294.05 361.06,298.91 370.45,299.69 379.85,299.52 389.25,300.31 398.64,299.74 408.03,299.31 417.43,297.96 426.82,294.42 436.22,301.91 445.62,299.69 455.01,297.51 464.40,299.69 473.80,297.91 483.19,296.52 492.59,300.64 501.98,299.31 511.38,298.73 520.77,302.04 530.17,298.37 539.57,294.54 548.96,292.49 558.36,294.75 567.75,298.41 577.14,299.64 586.54,300.81 595.93,298.54 605.33,298.25" fill="none" stroke="#76c684" stroke-width="1.4" stroke-linejoin="round"/>
<polyline points="107.39,301.52 116.79,300.82 126.19,299.16 135.58,299.13 144.97,300.39 154.37,298.69 163.76,300.86 173.16,292.28 182.56,298.77 191.95,297.95 201.34,308.44 210.74,298.72 220.13,300.17 229.53,296.09 238.92,292.65 248.32,303.01 257.72,303.97 267.11,300.99 276.50,300.95 285.90,301.86 295.29,296.13 304.69,299.46 314.08,299.65 323.48,300.82 332.88,301.09 342.27,300.56 351.66,294.96 361.06,299.77 370.45,300.56 379.85,300.38 389.25,301.17 398.64,300.59 408.03,300.17 417.43,298.81 426.82,295.31 436.22,302.84 445.62,300.56 455.01,298.37 464.40,300.56 473.80,298.77 483.19,297.41 492.59,301.52 501.98,300.17 511.38,299.65 520.77,302.92 530.17,299.25 539.57,295.39 548.96,293.33 558.36,295.54 567.75,299.34 577.14,300.52 586.54,301.64 595.93,299.42 605.33,299.16" fill="none" stroke="#66b270" stroke-width="1.4" stroke-linejoin="round"/>
<polyline points="107.39,302.41 116.79,301.71 126.19,300.08 135.58,300.06 144.97,301.29 154.37,299.59 163.76,301.73 173.16,293.14 182.56,299.64 191.95,298.82 201.34,309.37 210.74,299.61 220.13,301.04 229.53,296.95 238.92,293.48 248.32,303.85 257.72,304.84 267.11,301.79 276.50,301.78 285.90,302.68 295.29,296.96 304.69,300.33 314.08,300.58 323.48,301.71 332.88,301.99 342.27,301.43 351.66,295.88 361.06,300.64 370.45,301.43 379.85,301.24 389.25,302.04 398.64,301.45 408.03,301.04 417.43,299.65 426.82,296.21 436.22,303.77 445.62,301.43 455.01,299.24 464.40,301.43 473.80,299.64 483.19,298.31 492.59,302.41 501.98,301.04 511.38,300.58 520.77,303.81 530.17,300.12 539.57,296.25 548.96,294.16 558.36,296.32 567.75,300.27 577.14,301.41 586.54,302.47 595.93,300.31 605.33,300.08" fill="none" stroke="#a07ccc" stroke-width="1.4" stroke-linejoin="round"/>
<polyline points="107.39,303.30 116.79,302.60 126.19,301.00 135.58,301.00 144.97,302.20 154.37,300.50 163.76,302.60 173.16,294.00 182.56,300.50 191.95,299.70 201.34,310.30 210.74,300.50 220.13,301.90 229.53,297.80 238.92,294.30 248.32,304.70 257.72,305.70 267.11,302.60 276.50,302.60 285.90,303.50 295.29,297.80 304.69,301.20 314.08,301.50 323.48,302.60 332.88,302.90 342.27,302.30 351.66,296.80 361.06,301.50 370.45,302.30 379.85,302.10 389.25,302.90 398.64,302.30 408.03,301.90 417.43,300.50 426.82,297.10 436.22,304.70 445.62,302.30 455.01,300.10 464.40,302.30 473.80,300.50 483.19,299.20 492.59,303.30 501.98,301.90 511.38,301.50 520.77,304.70 530.17,301.00 539.57,297.10 548.96,295.00 558.36,297.10 567.75,301.20 577.14,302.30 586.54,303.30 595.93,301.20 605.33,301.00" fill="none" stroke="#8e66c2" stroke-width="1.4" stroke-linejoin="round"/>
<polyline points="107.39,315.30 116.79,314.60 126.19,314.30 135.58,311.50 144.97,313.50 154.37,310.00 163.76,314.80 173.16,302.70 182.56,311.80 191.95,311.10 201.34,323.60 210.74,311.80 220.13,314.60 229.53,307.30 238.92,304.10 248.32,318.70 257.72,319.40 267.11,314.30 276.50,314.60 285.90,315.60 295.29,306.90 304.69,313.90 314.08,313.20 323.48,315.30 332.88,318.00 342.27,314.60 351.66,309.00 361.06,312.50 370.45,314.30 379.85,314.70 389.25,316.00 398.64,314.80 408.03,314.30 417.43,312.50 426.82,309.00 436.22,317.40 445.62,315.30 455.01,311.50 464.40,314.30 473.80,312.50 483.19,308.30 492.59,316.70 501.98,314.60 511.38,314.60 520.77,318.00 530.17,315.30 539.57,307.60 548.96,306.70 558.36,307.30 567.75,313.90 577.14,314.60 586.54,314.80 595.93,313.20 605.33,311.80" fill="none" stroke="#f07a7a" stroke-width="1.45" stroke-linejoin="round"/>
<line x1="98.2" y1="271" x2="98.2" y2="338" stroke="#4a4a4a" stroke-width="1.3"/>
<line x1="97" y1="335.4" x2="614.5" y2="335.4" stroke="#4a4a4a" stroke-width="1.4"/>
<line x1="91.8" y1="272.00" x2="98" y2="272.00" stroke="#4a4a4a" stroke-width="1"/>
<text x="89.6" y="274.10" text-anchor="end" font-family="Liberation Sans" font-size="5.9" fill="#3c3c3c" stroke="#3c3c3c">2</text>
<line x1="91.8" y1="284.65" x2="98" y2="284.65" stroke="#4a4a4a" stroke-width="1"/>
<text x="89.6" y="286.75" text-anchor="end" font-family="Liberation Sans" font-size="5.9" fill="#3c3c3c" stroke="#3c3c3c">1.95</text>
<line x1="91.8" y1="297.30" x2="98" y2="297.30" stroke="#4a4a4a" stroke-width="1"/>
<text x="89.6" y="299.40" text-anchor="end" font-family="Liberation Sans" font-size="5.9" fill="#3c3c3c" stroke="#3c3c3c">1.9</text>
<line x1="91.8" y1="309.95" x2="98" y2="309.95" stroke="#4a4a4a" stroke-width="1"/>
<text x="89.6" y="312.05" text-anchor="end" font-family="Liberation Sans" font-size="5.9" fill="#3c3c3c" stroke="#3c3c3c">1.85</text>
<line x1="91.8" y1="322.60" x2="98" y2="322.60" stroke="#4a4a4a" stroke-width="1"/>
<text x="89.6" y="324.70" text-anchor="end" font-family="Liberation Sans" font-size="5.9" fill="#3c3c3c" stroke="#3c3c3c">1.8</text>
<line x1="91.8" y1="335.25" x2="98" y2="335.25" stroke="#4a4a4a" stroke-width="1"/>
<text x="89.6" y="337.35" text-anchor="end" font-family="Liberation Sans" font-size="5.9" fill="#3c3c3c" stroke="#3c3c3c">1.75</text>
<line x1="98.00" y1="335" x2="98.00" y2="337.5" stroke="#4a4a4a" stroke-width="0.8"/>
<text x="98.00" y="345.0" text-anchor="middle" font-family="Liberation Sans" font-size="5.6" fill="#3c3c3c" stroke="#3c3c3c">0</text>
<line x1="107.39" y1="335" x2="107.39" y2="337.5" stroke="#4a4a4a" stroke-width="0.8"/>
<text x="107.39" y="352.5" text-anchor="middle" font-family="Liberation Sans" font-size="5.6" fill="#3c3c3c" stroke="#3c3c3c">1</text>
<line x1="116.79" y1="335" x2="116.79" y2="337.5" stroke="#4a4a4a" stroke-width="0.8"/>
<text x="116.79" y="345.0" text-anchor="middle" font-family="Liberation Sans" font-size="5.6" fill="#3c3c3c" stroke="#3c3c3c">2</text>
<line x1="126.19" y1="335" x2="126.19" y2="337.5" stroke="#4a4a4a" stroke-width="0.8"/>
<text x="126.19" y="352.5" text-anchor="middle" font-family="Liberation Sans" font-size="5.6" fill="#3c3c3c" stroke="#3c3c3c">3</text>
<line x1="135.58" y1="335" x2="135.58" y2="337.5" stroke="#4a4a4a" stroke-width="0.8"/>
<text x="135.58" y="345.0" text-anchor="middle" font-family="Liberation Sans" font-size="5.6" fill="#3c3c3c" stroke="#3c3c3c">4</text>
<line x1="144.97" y1="335" x2="144.97" y2="337.5" stroke="#4a4a4a" stroke-width="0.8"/>
<text x="144.97" y="352.5" text-anchor="middle" font-family="Liberation Sans" font-size="5.6" fill="#3c3c3c" stroke="#3c3c3c">5</text>
<line x1="154.37" y1="335" x2="154.37" y2="337.5" stroke="#4a4a4a" stroke-width="0.8"/>
<text x="154.37" y="345.0" text-anchor="middle" font-family="Liberation Sans" font-size="5.6" fill="#3c3c3c" stroke="#3c3c3c">6</text>
<line x1="163.76" y1="335" x2="163.76" y2="337.5" stroke="#4a4a4a" stroke-width="0.8"/>
<text x="163.76" y="352.5" text-anchor="middle" font-family="Liberation Sans" font-size="5.6" fill="#3c3c3c" stroke="#3c3c3c">7</text>
<line x1="173.16" y1="335" x2="173.16" y2="337.5" stroke="#4a4a4a" stroke-width="0.8"/>
<text x="173.16" y="345.0" text-anchor="middle" font-family="Liberation Sans" font-size="5.6" fill="#3c3c3c" stroke="#3c3c3c">8</text>
<line x1="182.56" y1="335" x2="182.56" y2="337.5" stroke="#4a4a4a" stroke-width="0.8"/>
<text x="182.56" y="352.5" text-anchor="middle" font-family="Liberation Sans" font-size="5.6" fill="#3c3c3c" stroke="#3c3c3c">9</text>
<line x1="191.95" y1="335" x2="191.95" y2="337.5" stroke="#4a4a4a" stroke-width="0.8"/>
<text x="191.95" y="345.0" text-anchor="middle" font-family="Liberation Sans" font-size="5.6" fill="#3c3c3c" stroke="#3c3c3c">10</text>
<line x1="201.34" y1="335" x2="201.34" y2="337.5" stroke="#4a4a4a" stroke-width="0.8"/>
<text x="201.34" y="352.5" text-anchor="middle" font-family="Liberation Sans" font-size="5.6" fill="#3c3c3c" stroke="#3c3c3c">11</text>
<line x1="210.74" y1="335" x2="210.74" y2="337.5" stroke="#4a4a4a" stroke-width="0.8"/>
<text x="210.74" y="345.0" text-anchor="middle" font-family="Liberation Sans" font-size="5.6" fill="#3c3c3c" stroke="#3c3c3c">12</text>
<line x1="220.13" y1="335" x2="220.13" y2="337.5" stroke="#4a4a4a" stroke-width="0.8"/>
<text x="220.13" y="352.5" text-anchor="middle" font-family="Liberation Sans" font-size="5.6" fill="#3c3c3c" stroke="#3c3c3c">13</text>
<line x1="229.53" y1="335" x2="229.53" y2="337.5" stroke="#4a4a4a" stroke-width="0.8"/>
<text x="229.53" y="345.0" text-anchor="middle" font-family="Liberation Sans" font-size="5.6" fill="#3c3c3c" stroke="#3c3c3c">14</text>
<line x1="238.92" y1="335" x2="238.92" y2="337.5" stroke="#4a4a4a" stroke-width="0.8"/>
<text x="238.92" y="352.5" text-anchor="middle" font-family="Liberation Sans" font-size="5.6" fill="#3c3c3c" stroke="#3c3c3c">15</text>
<line x1="248.32" y1="335" x2="248.32" y2="337.5" stroke="#4a4a4a" stroke-width="0.8"/>
<text x="248.32" y="345.0" text-anchor="middle" font-family="Liberation Sans" font-size="5.6" fill="#3c3c3c" stroke="#3c3c3c">16</text>
<line x1="257.72" y1="335" x2="257.72" y2="337.5" stroke="#4a4a4a" stroke-width="0.8"/>
<text x="257.72" y="352.5" text-anchor="middle" font-family="Liberation Sans" font-size="5.6" fill="#3c3c3c" stroke="#3c3c3c">17</text>
<line x1="267.11" y1="335" x2="267.11" y2="337.5" stroke="#4a4a4a" stroke-width="0.8"/>
<text x="267.11" y="345.0" text-anchor="middle" font-family="Liberation Sans" font-size="5.6" fill="#3c3c3c" stroke="#3c3c3c">18</text>
<line x1="276.50" y1="335" x2="276.50" y2="337.5" stroke="#4a4a4a" stroke-width="0.8"/>
<text x="276.50" y="352.5" text-anchor="middle" font-family="Liberation Sans" font-size="5.6" fill="#3c3c3c" stroke="#3c3c3c">19</text>
<line x1="285.90" y1="335" x2="285.90" y2="337.5" stroke="#4a4a4a" stroke-width="0.8"/>
<text x="285.90" y="345.0" text-anchor="middle" font-family="Liberation Sans" font-size="5.6" fill="#3c3c3c" stroke="#3c3c3c">20</text>
<line x1="295.29" y1="335" x2="295.29" y2="337.5" stroke="#4a4a4a" stroke-width="0.8"/>
<text x="295.29" y="352.5" text-anchor="middle" font-family="Liberation Sans" font-size="5.6" fill="#3c3c3c" stroke="#3c3c3c">21</text>
<line x1="304.69" y1="335" x2="304.69" y2="337.5" stroke="#4a4a4a" stroke-width="0.8"/>
<text x="304.69" y="345.0" text-anchor="middle" font-family="Liberation Sans" font-size="5.6" fill="#3c3c3c" stroke="#3c3c3c">22</text>
<line x1="314.08" y1="335" x2="314.08" y2="337.5" stroke="#4a4a4a" stroke-width="0.8"/>
<text x="314.08" y="352.5" text-anchor="middle" font-family="Liberation Sans" font-size="5.6" fill="#3c3c3c" stroke="#3c3c3c">23</text>
<line x1="323.48" y1="335" x2="323.48" y2="337.5" stroke="#4a4a4a" stroke-width="0.8"/>
<text x="323.48" y="345.0" text-anchor="middle" font-family="Liberation Sans" font-size="5.6" fill="#3c3c3c" stroke="#3c3c3c">24</text>
<line x1="332.88" y1="335" x2="332.88" y2="337.5" stroke="#4a4a4a" stroke-width="0.8"/>
<text x="332.88" y="352.5" text-anchor="middle" font-family="Liberation Sans" font-size="5.6" fill="#3c3c3c" stroke="#3c3c3c">25</text>
<line x1="342.27" y1="335" x2="342.27" y2="337.5" stroke="#4a4a4a" stroke-width="0.8"/>
<text x="342.27" y="345.0" text-anchor="middle" font-family="Liberation Sans" font-size="5.6" fill="#3c3c3c" stroke="#3c3c3c">26</text>
<line x1="351.66" y1="335" x2="351.66" y2="337.5" stroke="#4a4a4a" stroke-width="0.8"/>
<text x="351.66" y="352.5" text-anchor="middle" font-family="Liberation Sans" font-size="5.6" fill="#3c3c3c" stroke="#3c3c3c">27</text>
<line x1="361.06" y1="335" x2="361.06" y2="337.5" stroke="#4a4a4a" stroke-width="0.8"/>
<text x="361.06" y="345.0" text-anchor="middle" font-family="Liberation Sans" font-size="5.6" fill="#3c3c3c" stroke="#3c3c3c">28</text>
<line x1="370.45" y1="335" x2="370.45" y2="337.5" stroke="#4a4a4a" stroke-width="0.8"/>
<text x="370.45" y="352.5" text-anchor="middle" font-family="Liberation Sans" font-size="5.6" fill="#3c3c3c" stroke="#3c3c3c">29</text>
<line x1="379.85" y1="335" x2="379.85" y2="337.5" stroke="#4a4a4a" stroke-width="0.8"/>
<text x="379.85" y="345.0" text-anchor="middle" font-family="Liberation Sans" font-size="5.6" fill="#3c3c3c" stroke="#3c3c3c">30</text>
<line x1="389.25" y1="335" x2="389.25" y2="337.5" stroke="#4a4a4a" stroke-width="0.8"/>
<text x="389.25" y="352.5" text-anchor="middle" font-family="Liberation Sans" font-size="5.6" fill="#3c3c3c" stroke="#3c3c3c">31</text>
<line x1="398.64" y1="335" x2="398.64" y2="337.5" stroke="#4a4a4a" stroke-width="0.8"/>
<text x="398.64" y="345.0" text-anchor="middle" font-family="Liberation Sans" font-size="5.6" fill="#3c3c3c" stroke="#3c3c3c">32</text>
<line x1="408.03" y1="335" x2="408.03" y2="337.5" stroke="#4a4a4a" stroke-width="0.8"/>
<text x="408.03" y="352.5" text-anchor="middle" font-family="Liberation Sans" font-size="5.6" fill="#3c3c3c" stroke="#3c3c3c">33</text>
<line x1="417.43" y1="335" x2="417.43" y2="337.5" stroke="#4a4a4a" stroke-width="0.8"/>
<text x="417.43" y="345.0" text-anchor="middle" font-family="Liberation Sans" font-size="5.6" fill="#3c3c3c" stroke="#3c3c3c">34</text>
<line x1="426.82" y1="335" x2="426.82" y2="337.5" stroke="#4a4a4a" stroke-width="0.8"/>
<text x="426.82" y="352.5" text-anchor="middle" font-family="Liberation Sans" font-size="5.6" fill="#3c3c3c" stroke="#3c3c3c">35</text>
<line x1="436.22" y1="335" x2="436.22" y2="337.5" stroke="#4a4a4a" stroke-width="0.8"/>
<text x="436.22" y="345.0" text-anchor="middle" font-family="Liberation Sans" font-size="5.6" fill="#3c3c3c" stroke="#3c3c3c">36</text>
<line x1="445.62" y1="335" x2="445.62" y2="337.5" stroke="#4a4a4a" stroke-width="0.8"/>
<text x="445.62" y="352.5" text-anchor="middle" font-family="Liberation Sans" font-size="5.6" fill="#3c3c3c" stroke="#3c3c3c">37</text>
<line x1="455.01" y1="335" x2="455.01" y2="337.5" stroke="#4a4a4a" stroke-width="0.8"/>
<text x="455.01" y="345.0" text-anchor="middle" font-family="Liberation Sans" font-size="5.6" fill="#3c3c3c" stroke="#3c3c3c">38</text>
<line x1="464.40" y1="335" x2="464.40" y2="337.5" stroke="#4a4a4a" stroke-width="0.8"/>
<text x="464.40" y="352.5" text-anchor="middle" font-family="Liberation Sans" font-size="5.6" fill="#3c3c3c" stroke="#3c3c3c">39</text>
<line x1="473.80" y1="335" x2="473.80" y2="337.5" stroke="#4a4a4a" stroke-width="0.8"/>
<text x="473.80" y="345.0" text-anchor="middle" font-family="Liberation Sans" font-size="5.6" fill="#3c3c3c" stroke="#3c3c3c">40</text>
<line x1="483.19" y1="335" x2="483.19" y2="337.5" stroke="#4a4a4a" stroke-width="0.8"/>
<text x="483.19" y="352.5" text-anchor="middle" font-family="Liberation Sans" font-size="5.6" fill="#3c3c3c" stroke="#3c3c3c">41</text>
<line x1="492.59" y1="335" x2="492.59" y2="337.5" stroke="#4a4a4a" stroke-width="0.8"/>
<text x="492.59" y="345.0" text-anchor="middle" font-family="Liberation Sans" font-size="5.6" fill="#3c3c3c" stroke="#3c3c3c">42</text>
<line x1="501.98" y1="335" x2="501.98" y2="337.5" stroke="#4a4a4a" stroke-width="0.8"/>
<text x="501.98" y="352.5" text-anchor="middle" font-family="Liberation Sans" font-size="5.6" fill="#3c3c3c" stroke="#3c3c3c">43</text>
<line x1="511.38" y1="335" x2="511.38" y2="337.5" stroke="#4a4a4a" stroke-width="0.8"/>
<text x="511.38" y="345.0" text-anchor="middle" font-family="Liberation Sans" font-size="5.6" fill="#3c3c3c" stroke="#3c3c3c">44</text>
<line x1="520.77" y1="335" x2="520.77" y2="337.5" stroke="#4a4a4a" stroke-width="0.8"/>
<text x="520.77" y="352.5" text-anchor="middle" font-family="Liberation Sans" font-size="5.6" fill="#3c3c3c" stroke="#3c3c3c">45</text>
<line x1="530.17" y1="335" x2="530.17" y2="337.5" stroke="#4a4a4a" stroke-width="0.8"/>
<text x="530.17" y="345.0" text-anchor="middle" font-family="Liberation Sans" font-size="5.6" fill="#3c3c3c" stroke="#3c3c3c">46</text>
<line x1="539.57" y1="335" x2="539.57" y2="337.5" stroke="#4a4a4a" stroke-width="0.8"/>
<text x="539.57" y="352.5" text-anchor="middle" font-family="Liberation Sans" font-size="5.6" fill="#3c3c3c" stroke="#3c3c3c">47</text>
<line x1="548.96" y1="335" x2="548.96" y2="337.5" stroke="#4a4a4a" stroke-width="0.8"/>
<text x="548.96" y="345.0" text-anchor="middle" font-family="Liberation Sans" font-size="5.6" fill="#3c3c3c" stroke="#3c3c3c">48</text>
<line x1="558.36" y1="335" x2="558.36" y2="337.5" stroke="#4a4a4a" stroke-width="0.8"/>
<text x="558.36" y="352.5" text-anchor="middle" font-family="Liberation Sans" font-size="5.6" fill="#3c3c3c" stroke="#3c3c3c">49</text>
<line x1="567.75" y1="335" x2="567.75" y2="337.5" stroke="#4a4a4a" stroke-width="0.8"/>
<text x="567.75" y="345.0" text-anchor="middle" font-family="Liberation Sans" font-size="5.6" fill="#3c3c3c" stroke="#3c3c3c">50</text>
<line x1="577.14" y1="335" x2="577.14" y2="337.5" stroke="#4a4a4a" stroke-width="0.8"/>
<text x="577.14" y="352.5" text-anchor="middle" font-family="Liberation Sans" font-size="5.6" fill="#3c3c3c" stroke="#3c3c3c">51</text>
<line x1="586.54" y1="335" x2="586.54" y2="337.5" stroke="#4a4a4a" stroke-width="0.8"/>
<text x="586.54" y="345.0" text-anchor="middle" font-family="Liberation Sans" font-size="5.6" fill="#3c3c3c" stroke="#3c3c3c">52</text>
<line x1="595.93" y1="335" x2="595.93" y2="337.5" stroke="#4a4a4a" stroke-width="0.8"/>
<text x="595.93" y="352.5" text-anchor="middle" font-family="Liberation Sans" font-size="5.6" fill="#3c3c3c" stroke="#3c3c3c">53</text>
<line x1="605.33" y1="335" x2="605.33" y2="337.5" stroke="#4a4a4a" stroke-width="0.8"/>
<text x="605.33" y="345.0" text-anchor="middle" font-family="Liberation Sans" font-size="5.6" fill="#3c3c3c" stroke="#3c3c3c">54</text>
<line x1="614.73" y1="335" x2="614.73" y2="337.5" stroke="#4a4a4a" stroke-width="0.8"/>
<text x="614.73" y="352.5" text-anchor="middle" font-family="Liberation Sans" font-size="5.6" fill="#3c3c3c" stroke="#3c3c3c">55</text>
<text x="356" y="361.8" text-anchor="middle" font-family="Liberation Sans" font-size="6.9" fill="#3c3c3c" stroke="#3c3c3c">Cell (Group)</text>
<text class="r" transform="translate(64.6,304.1) rotate(-90) scale(1,1.25)" text-anchor="middle" font-family="Liberation Sans" font-size="7.1" fill="#444" stroke="#444" style="stroke-width:0.3px">Voltage [V]</text>
<line x1="61.5" y1="373.90" x2="73.5" y2="373.90" stroke="#9ad4ee" stroke-width="1.8" stroke-opacity="0.8"/>
<text class="lg" x="75.4" y="376.00" font-family="Liberation Sans" font-size="5.9" fill="#4a4a4a" stroke="#4a4a4a">00s [Scan 1]</text>
<line x1="61.5" y1="380.85" x2="73.5" y2="380.85" stroke="#80c880" stroke-width="1.8" stroke-opacity="0.8"/>
<text class="lg" x="75.4" y="382.95" font-family="Liberation Sans" font-size="5.9" fill="#4a4a4a" stroke="#4a4a4a">02m 17s [Scan 2]</text>
<line x1="61.5" y1="387.80" x2="73.5" y2="387.80" stroke="#9060c4" stroke-width="1.8" stroke-opacity="0.8"/>
<text class="lg" x="75.4" y="389.90" font-family="Liberation Sans" font-size="5.9" fill="#4a4a4a" stroke="#4a4a4a">02m 23s [Scan 3]</text>
<line x1="128" y1="373.90" x2="140" y2="373.90" stroke="#f08888" stroke-width="1.8" stroke-opacity="0.8"/>
<text class="lg" x="141.9" y="376.00" font-family="Liberation Sans" font-size="5.9" fill="#4a4a4a" stroke="#4a4a4a">02m 28s [Scan 4]</text>
<line x1="128" y1="380.85" x2="140" y2="380.85" stroke="#7898dc" stroke-width="1.8" stroke-opacity="0.8"/>
<text class="lg" x="141.9" y="382.95" font-family="Liberation Sans" font-size="5.9" fill="#4a4a4a" stroke="#4a4a4a">02m 32s [Scan 5]</text>
<line x1="128" y1="387.80" x2="140" y2="387.80" stroke="#90d070" stroke-width="1.8" stroke-opacity="0.8"/>
<text class="lg" x="141.9" y="389.90" font-family="Liberation Sans" font-size="5.9" fill="#4a4a4a" stroke="#4a4a4a">02m 43s [Scan 6]</text>
<line x1="195" y1="373.90" x2="207" y2="373.90" stroke="#88d8c8" stroke-width="1.8" stroke-opacity="0.8"/>
<text class="lg" x="208.9" y="376.00" font-family="Liberation Sans" font-size="5.9" fill="#4a4a4a" stroke="#4a4a4a">12m 43s [Scan 7]</text>
<line x1="195" y1="380.85" x2="207" y2="380.85" stroke="#f4a0c8" stroke-width="1.8" stroke-opacity="0.8"/>
<text class="lg" x="208.9" y="382.95" font-family="Liberation Sans" font-size="5.9" fill="#4a4a4a" stroke="#4a4a4a">22m 43s [Scan 8]</text>
<line x1="195" y1="387.80" x2="207" y2="387.80" stroke="#eeea90" stroke-width="1.8" stroke-opacity="0.8"/>
<text class="lg" x="208.9" y="389.90" font-family="Liberation Sans" font-size="5.9" fill="#4a4a4a" stroke="#4a4a4a">32m 44s [Scan 9]</text>
<line x1="263" y1="373.90" x2="275" y2="373.90" stroke="#f0d4b0" stroke-width="1.8" stroke-opacity="0.8"/>
<text class="lg" x="276.9" y="376.00" font-family="Liberation Sans" font-size="5.9" fill="#4a4a4a" stroke="#4a4a4a">42m 43s [Scan 10]</text>
<line x1="263" y1="380.85" x2="275" y2="380.85" stroke="#a0d0a8" stroke-width="1.8" stroke-opacity="0.8"/>
<text class="lg" x="276.9" y="382.95" font-family="Liberation Sans" font-size="5.9" fill="#4a4a4a" stroke="#4a4a4a">46m 32s [Scan 11]</text>
<line x1="263" y1="387.80" x2="275" y2="387.80" stroke="#6888e0" stroke-width="1.8" stroke-opacity="0.8"/>
<text class="lg" x="276.9" y="389.90" font-family="Liberation Sans" font-size="5.9" fill="#4a4a4a" stroke="#4a4a4a">56m 33s [Scan 12]</text>
<line x1="333" y1="373.90" x2="345" y2="373.90" stroke="#d0a8e0" stroke-width="1.8" stroke-opacity="0.8"/>
<text class="lg" x="346.9" y="376.00" font-family="Liberation Sans" font-size="5.9" fill="#4a4a4a" stroke="#4a4a4a">31h 06m [Scan 13]</text>
<line x1="333" y1="380.85" x2="345" y2="380.85" stroke="#90b8b8" stroke-width="1.8" stroke-opacity="0.8"/>
<text class="lg" x="346.9" y="382.95" font-family="Liberation Sans" font-size="5.9" fill="#4a4a4a" stroke="#4a4a4a">31h 15m [Scan 14]</text>
<line x1="404" y1="373.90" x2="416" y2="373.90" stroke="#f8c8a8" stroke-width="1.8" stroke-opacity="0.8"/>
<text class="lg" x="417.9" y="376.00" font-family="Liberation Sans" font-size="5.9" fill="#4a4a4a" stroke="#4a4a4a">31h 26m [Scan 15]</text>
<line x1="404" y1="380.85" x2="416" y2="380.85" stroke="#f4a888" stroke-width="1.8" stroke-opacity="0.8"/>
<text class="lg" x="417.9" y="382.95" font-family="Liberation Sans" font-size="5.9" fill="#4a4a4a" stroke="#4a4a4a">31h 36m [Scan 16]</text>
<line x1="475.5" y1="373.90" x2="487.5" y2="373.90" stroke="#9cd4f0" stroke-width="1.8" stroke-opacity="0.8"/>
<text class="lg" x="489.4" y="376.00" font-family="Liberation Sans" font-size="5.9" fill="#4a4a4a" stroke="#4a4a4a">31h 46m [Scan 17]</text>
<line x1="475.5" y1="380.85" x2="487.5" y2="380.85" stroke="#88cc88" stroke-width="1.8" stroke-opacity="0.8"/>
<text class="lg" x="489.4" y="382.95" font-family="Liberation Sans" font-size="5.9" fill="#4a4a4a" stroke="#4a4a4a">31h 56m [Scan 18]</text>
<line x1="546" y1="373.90" x2="558" y2="373.90" stroke="#9868cc" stroke-width="1.8" stroke-opacity="0.8"/>
<text class="lg" x="559.9" y="376.00" font-family="Liberation Sans" font-size="5.9" fill="#4a4a4a" stroke="#4a4a4a">02h 06m [Scan 19]</text>
<line x1="546" y1="380.85" x2="558" y2="380.85" stroke="#f49c9c" stroke-width="1.8" stroke-opacity="0.8"/>
<text class="lg" x="559.9" y="382.95" font-family="Liberation Sans" font-size="5.9" fill="#4a4a4a" stroke="#4a4a4a">03h 06m [Scan 25]</text>
</svg>
<svg style="left:642.2px;top:264.4px" width="6.6" height="6.6"><rect x="0.5" y="0.5" width="5.6" height="5.6" fill="#e2e2e2" stroke="#707070" stroke-width="0.9"/><polyline points="1.5085714285714287,3.394285714285714 2.8285714285714283,4.714285714285714 5.185714285714286,1.7914285714285714" fill="none" stroke="#505050" stroke-width="0.9"/></svg>
<div class="t" style="left:651.7px;top:266.3px;font-size:5.85px;color:#333;transform:scaleY(1.15);">Select All</div>
<div style="position:absolute;left:642.3px;top:272.4px;width:83.2px;height:103px;background:#fff;border:1px solid #b8b8b8;box-sizing:border-box;"></div>
<svg style="left:643.7px;top:274.4px" width="7" height="7"><rect x="0.5" y="0.5" width="6" height="6" fill="#e2e2e2" stroke="#707070" stroke-width="0.9"/><polyline points="1.6,3.6 3.0,5.0 5.5,1.9" fill="none" stroke="#505050" stroke-width="0.9"/></svg>
<div class="t" style="left:653.0px;top:276.7px;font-size:6.85px;color:#383838;-webkit-text-stroke:0.25px #383838;transform:scaleY(1.04);">00s [Scan 1]</div>
<svg style="left:643.7px;top:283.52px" width="7" height="7"><rect x="0.5" y="0.5" width="6" height="6" fill="#e2e2e2" stroke="#707070" stroke-width="0.9"/><polyline points="1.6,3.6 3.0,5.0 5.5,1.9" fill="none" stroke="#505050" stroke-width="0.9"/></svg>
<div class="t" style="left:653.0px;top:285.82px;font-size:6.85px;color:#383838;-webkit-text-stroke:0.25px #383838;transform:scaleY(1.04);">02m 17s [Scan 2]</div>
<svg style="left:643.7px;top:292.64px" width="7" height="7"><rect x="0.5" y="0.5" width="6" height="6" fill="#e2e2e2" stroke="#707070" stroke-width="0.9"/><polyline points="1.6,3.6 3.0,5.0 5.5,1.9" fill="none" stroke="#505050" stroke-width="0.9"/></svg>
<div class="t" style="left:653.0px;top:294.94px;font-size:6.85px;color:#383838;-webkit-text-stroke:0.25px #383838;transform:scaleY(1.04);">02m 23s [Scan 3]</div>
<svg style="left:643.7px;top:301.76px" width="7" height="7"><rect x="0.5" y="0.5" width="6" height="6" fill="#e2e2e2" stroke="#707070" stroke-width="0.9"/><polyline points="1.6,3.6 3.0,5.0 5.5,1.9" fill="none" stroke="#505050" stroke-width="0.9"/></svg>
<div class="t" style="left:653.0px;top:304.06px;font-size:6.85px;color:#383838;-webkit-text-stroke:0.25px #383838;transform:scaleY(1.04);">02m 28s [Scan 4]</div>
<svg style="left:643.7px;top:310.88px" width="7" height="7"><rect x="0.5" y="0.5" width="6" height="6" fill="#e2e2e2" stroke="#707070" stroke-width="0.9"/><polyline points="1.6,3.6 3.0,5.0 5.5,1.9" fill="none" stroke="#505050" stroke-width="0.9"/></svg>
<div class="t" style="left:653.0px;top:313.18px;font-size:6.85px;color:#383838;-webkit-text-stroke:0.25px #383838;transform:scaleY(1.04);">02m 32s [Scan 5]</div>
<svg style="left:643.7px;top:320.0px" width="7" height="7"><rect x="0.5" y="0.5" width="6" height="6" fill="#e2e2e2" stroke="#707070" stroke-width="0.9"/><polyline points="1.6,3.6 3.0,5.0 5.5,1.9" fill="none" stroke="#505050" stroke-width="0.9"/></svg>
<div class="t" style="left:653.0px;top:322.3px;font-size:6.85px;color:#383838;-webkit-text-stroke:0.25px #383838;transform:scaleY(1.04);">02m 43s [Scan 6]</div>
<svg style="left:643.7px;top:329.12px" width="7" height="7"><rect x="0.5" y="0.5" width="6" height="6" fill="#e2e2e2" stroke="#707070" stroke-width="0.9"/><polyline points="1.6,3.6 3.0,5.0 5.5,1.9" fill="none" stroke="#505050" stroke-width="0.9"/></svg>
<div class="t" style="left:653.0px;top:331.42px;font-size:6.85px;color:#383838;-webkit-text-stroke:0.25px #383838;transform:scaleY(1.04);">12m 43s [Scan 7]</div>
<svg style="left:643.7px;top:338.23999999999995px" width="7" height="7"><rect x="0.5" y="0.5" width="6" height="6" fill="#e2e2e2" stroke="#707070" stroke-width="0.9"/><polyline points="1.6,3.6 3.0,5.0 5.5,1.9" fill="none" stroke="#505050" stroke-width="0.9"/></svg>
<div class="t" style="left:653.0px;top:340.53999999999996px;font-size:6.85px;color:#383838;-webkit-text-stroke:0.25px #383838;transform:scaleY(1.04);">22m 43s [Scan 8]</div>
<svg style="left:643.7px;top:347.35999999999996px" width="7" height="7"><rect x="0.5" y="0.5" width="6" height="6" fill="#e2e2e2" stroke="#707070" stroke-width="0.9"/><polyline points="1.6,3.6 3.0,5.0 5.5,1.9" fill="none" stroke="#505050" stroke-width="0.9"/></svg>
<div class="t" style="left:653.0px;top:349.65999999999997px;font-size:6.85px;color:#383838;-webkit-text-stroke:0.25px #383838;transform:scaleY(1.04);">32m 44s [Scan 9]</div>
<svg style="left:643.7px;top:356.47999999999996px" width="7" height="7"><rect x="0.5" y="0.5" width="6" height="6" fill="#e2e2e2" stroke="#707070" stroke-width="0.9"/><polyline points="1.6,3.6 3.0,5.0 5.5,1.9" fill="none" stroke="#505050" stroke-width="0.9"/></svg>
<div class="t" style="left:653.0px;top:358.78px;font-size:6.85px;color:#383838;-webkit-text-stroke:0.25px #383838;transform:scaleY(1.04);">42m 43s [Scan 10]</div>
<svg style="left:643.7px;top:365.59999999999997px" width="7" height="7"><rect x="0.5" y="0.5" width="6" height="6" fill="#e2e2e2" stroke="#707070" stroke-width="0.9"/><polyline points="1.6,3.6 3.0,5.0 5.5,1.9" fill="none" stroke="#505050" stroke-width="0.9"/></svg>
<div class="t" style="left:653.0px;top:367.9px;font-size:6.85px;color:#383838;-webkit-text-stroke:0.25px #383838;transform:scaleY(1.04);">46m 32s [Scan 11]</div>
<div style="position:absolute;left:716.3px;top:273.4px;width:8.2px;height:101px;background:#f0f0f0;"></div>
<div style="position:absolute;left:717.2px;top:283px;width:6.4px;height:44px;background:#c8c8c8;"></div>
<div class="t" style="left:717.8px;top:275.6px;font-size:6px;color:#707070;">&#708;</div>
<div class="t" style="left:717.8px;top:366.6px;font-size:6px;color:#707070;">&#709;</div>
<svg style="left:645px;top:391.5px" width="6" height="6"><polyline points="1,0.5 1,5 5,5" fill="none" stroke="#c4c4c4" stroke-width="0.8"/><polyline points="2.5,2.5 4.5,4.5" fill="none" stroke="#c4c4c4" stroke-width="0.8"/></svg>
<div class="t" style="left:652px;top:393.4px;font-size:6.0px;color:#b4b4b4;">Hydrometer scan</div>
<div class="t" style="left:14.9px;top:415.5px;font-size:6.05px;color:#404040;">Device</div>
<div class="t" style="left:39.6px;top:415.5px;font-size:6.05px;color:#404040;">BVS</div>
<div class="t" style="left:56.5px;top:415.5px;font-size:6.05px;color:#404040;">Serial Number</div>
<div class="t" style="left:102.9px;top:415.5px;font-size:6.05px;color:#404040;">1785083</div>
<div class="t" style="left:130.6px;top:415.5px;font-size:6.05px;color:#404040;">Firmware version</div>
<div class="t" style="left:184px;top:415.5px;font-size:6.05px;color:#404040;">0.08</div>
<div class="t" style="left:201.4px;top:415.5px;font-size:6.05px;color:#404040;">DV-B Win version</div>
<div class="t" style="left:256px;top:415.5px;font-size:6.05px;color:#404040;">2.2.6.0</div>
<div style="position:absolute;left:54px;top:411.5px;width:0.8px;height:10px;background:#c4c4c4;"></div>
<div style="position:absolute;left:127.4px;top:411.5px;width:0.8px;height:10px;background:#c4c4c4;"></div>
<div style="position:absolute;left:183.2px;top:411.5px;width:0.8px;height:10px;background:#c4c4c4;"></div>
<div style="position:absolute;left:198px;top:411.5px;width:0.8px;height:10px;background:#c4c4c4;"></div>
<div style="position:absolute;left:276px;top:411.5px;width:0.8px;height:10px;background:#c4c4c4;"></div>
<div style="position:absolute;left:12px;top:410px;width:266px;height:0.8px;background:#d8d8d8;"></div>
<div style="position:absolute;left:12px;top:11px;width:1px;height:412px;background:#dcdcdc;"></div>
</div></body></html>
